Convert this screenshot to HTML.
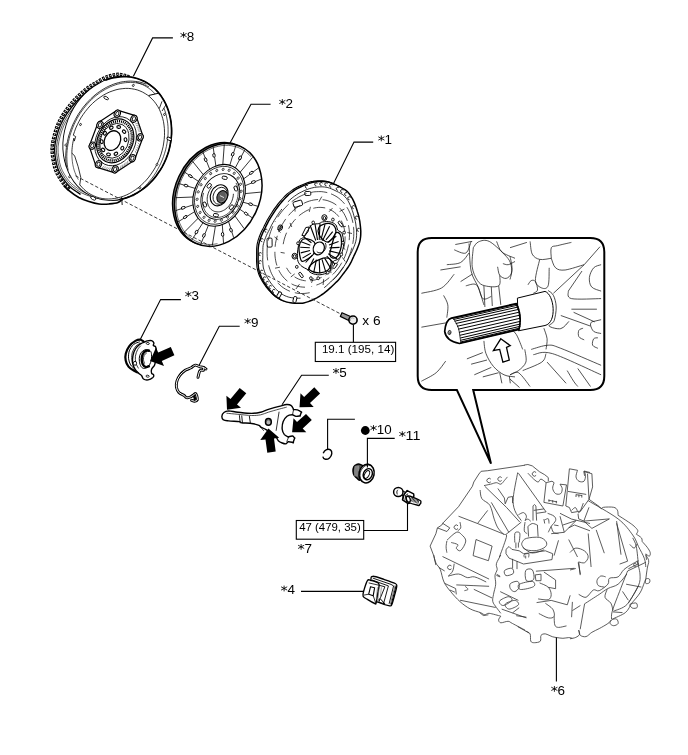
<!DOCTYPE html>
<html><head><meta charset="utf-8"><title>Clutch components</title>
<style>
html,body{margin:0;padding:0;background:#fff;}
body{width:688px;height:755px;overflow:hidden;font-family:"Liberation Sans",sans-serif;}
svg{display:block;position:absolute;left:0;top:0;filter:grayscale(1);}
svg text{font-family:"Liberation Sans",sans-serif;fill:#000;}
</style></head><body>
<svg width="688" height="755" viewBox="0 0 688 755">
<path d="M132.8 76.2 C129.4 72.1 132.2 75.8 129.8 75.2 C127.4 74.6 122.5 72.7 118.6 72.7 C114.7 72.7 110.4 73.9 106.5 75.3 C102.6 76.7 98.8 79.2 95.2 81.3 C91.6 83.4 88.7 85 85 87.9 C81.3 90.9 76.7 94.9 73 99 C69.3 103.1 65.5 108.2 62.7 112.4 C59.9 116.6 58.1 120.1 56.4 124 C54.7 127.9 53.6 131.7 52.6 135.7 C51.7 139.7 50.7 144 50.5 148.1 C50.3 152.2 51 156.6 51.6 160.3 C52.2 164 53 167.4 54.1 170.5 C55.2 173.6 56.7 176.1 58.2 178.7 C59.7 181.2 61.6 183.8 63.3 185.8 C65 187.8 65.8 188.9 68.3 190.9 C70.8 192.9 75.1 196.1 78.5 198 C81.9 199.9 85.3 201 88.7 202.1 C92.1 203.2 95.5 204.2 98.9 204.6 C102.3 205 105.8 204.8 109 204.6 C112.2 204.3 115.7 204 118 203.1 C120.3 202.2 117.6 204.9 122.9 199.4 C128.2 193.9 145.5 186.6 150 170 C154.5 153.4 152.9 115.6 150 100 C147.1 84.4 136.2 80.3 132.8 76.2 Z" fill="#fff" stroke="none" stroke-width="0" />
<path d="M129.4 76.8 C127.5 76.4 122.2 74.4 118.5 74.4 C114.7 74.4 110.5 75.6 106.7 77 C102.9 78.4 99.2 80.9 95.7 82.9 C92.2 85 89.4 86.5 85.8 89.4 C82.2 92.3 77.8 96.2 74.2 100.2 C70.6 104.2 66.9 109.2 64.2 113.2 C61.5 117.2 59.7 120.7 58 124.4 C56.4 128.2 55.3 131.9 54.3 135.8 C53.4 139.7 52.4 143.9 52.2 147.9 C52 151.8 52.6 156.1 53.2 159.7 C53.8 163.4 54.5 166.7 55.6 169.7 C56.7 172.7 58.1 175.2 59.6 177.7 C61.1 180.2 62.9 182.6 64.5 184.6 C66.2 186.6 68.6 188.8 69.4 189.6" fill="none" stroke="#000" stroke-width="3.6" stroke-dasharray="2.5 1.15"/>
<path d="M129.4 76.7 C127.6 76.2 122.3 74.2 118.5 74.2 C114.7 74.2 110.5 75.4 106.7 76.8 C102.8 78.2 99.1 80.7 95.6 82.7 C92.2 84.8 89.3 86.3 85.7 89.2 C82.1 92.1 77.7 96.1 74.1 100.1 C70.4 104 66.7 109 64 113.1 C61.3 117.2 59.5 120.6 57.8 124.4 C56.2 128.2 55.1 131.9 54.1 135.8 C53.2 139.7 52.2 143.9 52 147.9 C51.8 151.9 52.4 156.2 53 159.8 C53.6 163.5 54.4 166.8 55.4 169.8 C56.5 172.8 57.9 175.3 59.4 177.8 C60.9 180.3 62.7 182.8 64.4 184.8 C66 186.8 68.5 188.9 69.3 189.8" fill="none" stroke="#fff" stroke-width="1.1" stroke-dasharray="0.9 2.75" stroke-dashoffset="-0.8"/>
<path d="M131.5 80.2 C131.1 80 130.9 79.8 128.7 79.3 C126.5 78.7 121.9 76.8 118.2 76.9 C114.6 76.9 110.6 78.1 106.9 79.5 C103.3 80.9 99.8 83.3 96.4 85.3 C93.1 87.3 90.4 88.8 87 91.6 C83.6 94.4 79.4 98.2 76 102 C72.5 105.8 69 110.5 66.4 114.4 C63.8 118.2 62.1 121.5 60.5 125.1 C58.9 128.7 57.8 132.2 56.8 135.9 C55.9 139.7 54.9 143.7 54.7 147.5 C54.4 151.3 55 155.4 55.6 158.9 C56.1 162.4 56.8 165.6 57.8 168.5 C58.8 171.4 60.2 173.8 61.6 176.2 C63 178.6 64.8 181 66.4 182.9 C67.9 184.8 68.7 185.8 71 187.7 C73.4 189.6 79 193.3 80.6 194.4" fill="none" stroke="#000" stroke-width="1.3" />
<path d="M63.7 185.4 C64.6 186.2 66.2 188.4 68.7 190.4 C71.2 192.5 75.4 195.6 78.8 197.5 C82.2 199.3 85.5 200.5 88.9 201.5 C92.3 202.6 95.7 203.6 99 204 C102.4 204.4 105.9 204.3 109 204 C112.2 203.7 115.7 203.4 118 202.5 C120.2 201.6 122 199.4 122.8 198.8" fill="none" stroke="#000" stroke-width="1.7" />
<path d="M118.1 78.7 C116.3 79.1 110.6 79.9 107.1 81.3 C103.6 82.7 100.2 85.1 97 87 C93.8 89 91.2 90.5 87.9 93.2 C84.6 95.9 80.6 99.6 77.2 103.2 C73.9 106.9 70.5 111.5 68 115.2 C65.5 118.9 63.8 122.1 62.2 125.5 C60.6 129 59.6 132.4 58.6 136 C57.7 139.6 56.7 143.5 56.4 147.2 C56.2 151 56.8 154.9 57.3 158.3 C57.8 161.7 58.4 164.9 59.4 167.7 C60.4 170.5 61.7 172.8 63.1 175.2 C64.4 177.5 66.1 179.8 67.7 181.7 C69.2 183.5 69.9 184.5 72.2 186.4 C74.5 188.2 78.4 191.1 81.5 192.8 C84.6 194.5 87.8 195.5 90.9 196.5 C94 197.5 98.6 198.4 100.2 198.7" fill="none" stroke="#000" stroke-width="0.7" />
<path d="M107.3 82.9 C105.6 83.8 100.5 86.6 97.4 88.6 C94.3 90.5 91.8 91.9 88.7 94.6 C85.5 97.2 81.6 100.8 78.4 104.4 C75.2 107.9 71.9 112.4 69.4 116 C67 119.5 65.3 122.6 63.7 125.9 C62.2 129.3 61.2 132.6 60.2 136.1 C59.3 139.6 58.3 143.4 58 147 C57.8 150.6 58.3 154.5 58.8 157.8 C59.2 161.1 59.9 164.2 60.8 166.9 C61.7 169.7 63 172 64.4 174.2 C65.7 176.5 67.3 178.8 68.8 180.6 C70.3 182.4 71 183.3 73.3 185.1 C75.5 186.9 79.3 189.8 82.3 191.4 C85.4 193.1 89.9 194.4 91.4 195" fill="none" stroke="#000" stroke-width="0.6" />
<ellipse cx="117.3" cy="138.5" rx="52.8" ry="63.2" transform="rotate(21.5 117.3 138.5)" fill="#fff" stroke="#000" stroke-width="0.9" />
<path d="M105.3 80.3 L108.9 79 L112.4 78 L116 77.3 L119.6 76.8 L123.2 76.6 L126.8 76.7 L130.3 77 L133.8 77.7 L137.2 78.5 L140.5 79.7 L143.7 81.1 L146.8 82.8 L149.7 84.7 L152.5 86.8 L155.2 89.2 L157.7 91.8 L160 94.6 L162.1 97.6 L164 100.7 L165.8 104.1 L167.3 107.6 L168.6 111.2 L169.6 114.9 L170.5 118.8 L171.1 122.7 L171.4 126.7 L171.6 130.7 L171.5 134.8 L171.1 138.9 L170.5 143 L169.7 147.1 L168.7 151.2 L167.4 155.1 L165.9 159.1 L164.2 162.9 L162.3 166.6 L160.1 170.2 L157.8 173.6 L155.4 176.9 L152.7 180.1 L149.9 183 L147 185.8 L143.9 188.3 L140.7 190.6 L137.4 192.7 L134 194.6 L130.6 196.2 L127 197.6 L123.5 198.7 L119.9 199.5" fill="none" stroke="#000" stroke-width="1.7" />
<path d="M66.4 166.9 L66.1 164.2 L65.9 161.4 L65.7 158.7 L65.7 155.9 L65.9 153 L66.1 150.2 L66.4 147.4 L66.8 144.5 L67.4 141.7 L68 138.8 L68.7 136 L69.6 133.2 L70.5 130.4 L71.6 127.6 L72.7 124.9 L74 122.2 L75.3 119.6 L76.7 117 L78.2 114.4 L79.8 112 L81.5 109.6 L83.2 107.2 L85.1 105 L86.9 102.8 L88.9 100.7 L90.9 98.7 L93 96.8 L95.1 94.9 L97.3 93.2 L99.5 91.6 L101.8 90.1 L104.1 88.7 L106.4 87.4 L108.8 86.2 L111.2 85.2 L113.6 84.2 L116 83.4 L118.4 82.7 L120.8 82.1 L123.3 81.7 L125.7 81.4 L128.1 81.2 L130.5 81.1 L132.8 81.2 L135.2 81.4 L137.5 81.7 L139.8 82.1 L142 82.7 L144.2 83.4 L146.3 84.2" fill="none" stroke="#000" stroke-width="0.8" />
<path d="M68.2 170.4 L67.7 167.7 L67.3 164.9 L67 162.1 L66.9 159.2 L66.8 156.3 L66.9 153.4 L67.1 150.4 L67.5 147.5 L67.9 144.5 L68.5 141.6 L69.2 138.6 L69.9 135.7 L70.9 132.7 L71.9 129.8 L73 127 L74.2 124.2 L75.6 121.4 L77 118.7 L78.5 116 L80.1 113.4 L81.9 110.9 L83.7 108.4 L85.5 106.1 L87.5 103.8 L89.5 101.6 L91.6 99.5 L93.8 97.5 L96 95.6 L98.3 93.9 L100.6 92.2 L103 90.7 L105.4 89.3 L107.9 88 L110.3 86.8 L112.8 85.8 L115.3 84.9 L117.8 84.1 L120.4 83.5 L122.9 83 L125.4 82.7 L127.9 82.5 L130.4 82.4 L132.9 82.5 L135.3 82.7 L137.7 83.1 L140 83.6 L142.4 84.2 L144.6 85 L146.8 85.9 L149 86.9" fill="none" stroke="#000" stroke-width="0.7" />
<path d="M136.1 82.3 L138.3 82.9 L140.4 83.7 L142.5 84.6 L144.5 85.6 L146.4 86.7 L148.3 87.9 L150.2 89.3 L151.9 90.7 L153.6 92.3 L155.2 94" fill="none" stroke="#000" stroke-width="0.7" />
<path d="M163.9 108.1 L165 111 L165.9 113.9 L166.6 116.9 L167.2 120 L167.7 123.2 L168 126.5 L168.1 129.7 L168.1 133.1 L167.9 136.4 L167.5 139.8 L167 143.2 L166.4 146.5 L165.6 149.9 L164.6 153.3 L163.5 156.6 L162.3 159.8 L160.9 163.1 L159.4 166.2 L157.7 169.3 L156 172.3 L154.1 175.3 L152.1 178.1 L149.9 180.8 L147.7 183.4 L145.4 185.9 L143 188.3 L140.5 190.5 L137.9 192.6 L135.3 194.5 L132.6 196.3" fill="none" stroke="#000" stroke-width="0.7" />
<path d="M73.3 135.2 L74.5 131.6 L75.8 128 L77.4 124.6 L79.1 121.2 L80.9 117.9 L83 114.7 L85.2 111.7 L87.5 108.8 L89.9 106 L92.5 103.4 L95.2 101 L98 98.8 L100.9 96.8 L103.8 94.9 L106.8 93.3 L109.8 91.9 L112.9 90.8 L116 89.8 L119.1 89.1 L122.2 88.7 L125.3 88.4 L128.4 88.4 L131.4 88.7 L134.3 89.2 L137.2 89.9 L139.9 90.9 L142.6 92.1 L145.2 93.6 L147.7 95.2 L150 97.1 L152.1 99.1 L154.2 101.4 L156 103.8 L157.7 106.4 L159.3 109.2 L160.6 112.2 L161.7 115.2 L162.7 118.4 L163.5 121.7 L164 125.1 L164.4 128.6 L164.5 132.2 L164.5 135.7 L164.2 139.4 L163.7 143 L163.1 146.7 L162.2 150.3 L161.2 153.9 L159.9 157.5 L158.5 161 L156.9 164.4 L155.1 167.8 L153.1 171 L151 174.1 L148.8 177.1 L146.4 180 L143.9 182.6 L141.2 185.1 L138.5 187.5 L135.7 189.6 L132.8 191.5 L129.8 193.3 L126.8 194.8 L123.7 196.1 L120.6 197.1 L117.5 197.9 L114.4 198.5 L111.3 198.9 L108.2 199 L105.2 198.9 L102.2 198.5 L99.3 197.9 L96.5 197 L93.8 195.9 L91.1 194.6 L88.6 193.1 L86.2 191.3 L84 189.4 L81.9 187.2 L79.9 184.9" fill="none" stroke="#000" stroke-width="0.8" />
<path d="M71.9 153.1 L71.9 151.3 L72 149.4 L72.2 147.6 L72.4 145.7 L72.7 143.8 L73 141.9 L73.4 140.1 L73.9 138.2" fill="none" stroke="#000" stroke-width="0.8" />
<path d="M73.3 135.2 L75.7 136.6 L74.3 141.1 L73.9 138.2" fill="none" stroke="#000" stroke-width="0.8" />
<line x1="148.6" y1="95.5" x2="158.1" y2="93.3" stroke="#000" stroke-width="1.0" />
<line x1="159.3" y1="108.6" x2="162" y2="101.3" stroke="#000" stroke-width="0.8" />
<line x1="162.1" y1="111" x2="165.9" y2="104.9" stroke="#000" stroke-width="0.8" />
<line x1="121.6" y1="197.1" x2="122.2" y2="205" stroke="#000" stroke-width="0.9" />
<path d="M71.9 153.1 L74.7 156 L78.1 166.5 L80.8 177.5 L79.7 185.1" fill="none" stroke="#000" stroke-width="0.8" />
<path d="M78.4 179.7 L77.1 177.4 L76 175 L75 172.6 L74.1 170 L73.4 167.3 L72.8 164.6 L72.4 161.8 L72.1 159 L71.9 156.1 L71.9 153.1" fill="none" stroke="#000" stroke-width="0.6" />
<rect x="167" y="137" width="4.8" height="2.6" rx="1.2" transform="rotate(25 168 138.3)" fill="#fff" stroke="#000" stroke-width="0.9"/>
<ellipse cx="133.3" cy="85.4" rx="0.9" ry="1.2" transform="rotate(25 133.3 85.4)" fill="#fff" stroke="#000" stroke-width="0.7"/>
<ellipse cx="164.5" cy="114.4" rx="0.9" ry="1.2" transform="rotate(25 164.5 114.4)" fill="#fff" stroke="#000" stroke-width="0.7"/>
<ellipse cx="157" cy="164.5" rx="0.9" ry="1.2" transform="rotate(25 157 164.5)" fill="#fff" stroke="#000" stroke-width="0.7"/>
<ellipse cx="139.8" cy="187.8" rx="0.9" ry="1.2" transform="rotate(25 139.8 187.8)" fill="#fff" stroke="#000" stroke-width="0.7"/>
<ellipse cx="69.7" cy="176.7" rx="0.9" ry="1.2" transform="rotate(25 69.7 176.7)" fill="#fff" stroke="#000" stroke-width="0.7"/>
<ellipse cx="80.5" cy="124.5" rx="0.9" ry="1.2" transform="rotate(25 80.5 124.5)" fill="#fff" stroke="#000" stroke-width="0.7"/>
<ellipse cx="66" cy="145" rx="0.9" ry="1.2" transform="rotate(25 66 145)" fill="#fff" stroke="#000" stroke-width="0.7"/>
<ellipse cx="106.1" cy="98" rx="1.3" ry="2.6" transform="rotate(-60 106.1 98)" fill="#fff" stroke="#000" stroke-width="0.8"/>
<ellipse cx="93.2" cy="198.2" rx="1.5" ry="2.8" transform="rotate(-60 93.2 198.2)" fill="#fff" stroke="#000" stroke-width="0.8"/>
<path d="M136.1 115.9 L143.2 136.7 L134.4 160.3 L115 172.9 L96.3 167.1 L89.2 146.3 L98 122.7 L117.4 110.1 Z" fill="#fff" stroke="#000" stroke-width="1.2" stroke-linejoin="round"/>
<ellipse cx="115.6" cy="141.2" rx="19.7" ry="25.5" transform="rotate(25 115.6 141.2)" fill="none" stroke="#000" stroke-width="0.8" />
<line x1="135.3" y1="123.9" x2="138.8" y2="123.1" stroke="#333" stroke-width="0.5" />
<line x1="136.1" y1="125.5" x2="139.6" y2="125" stroke="#333" stroke-width="0.5" />
<line x1="136.8" y1="127.2" x2="140.3" y2="127" stroke="#333" stroke-width="0.5" />
<line x1="137.4" y1="129" x2="140.8" y2="129.1" stroke="#333" stroke-width="0.5" />
<line x1="137.9" y1="130.8" x2="141.2" y2="131.3" stroke="#333" stroke-width="0.5" />
<line x1="137.8" y1="142.8" x2="140.3" y2="145.1" stroke="#333" stroke-width="0.5" />
<line x1="137.3" y1="144.9" x2="139.6" y2="147.4" stroke="#333" stroke-width="0.5" />
<line x1="136.7" y1="146.9" x2="138.8" y2="149.6" stroke="#333" stroke-width="0.5" />
<line x1="135.9" y1="148.9" x2="137.8" y2="151.9" stroke="#333" stroke-width="0.5" />
<line x1="135.1" y1="150.8" x2="136.7" y2="154" stroke="#333" stroke-width="0.5" />
<line x1="127.7" y1="160.9" x2="127.7" y2="164.9" stroke="#333" stroke-width="0.5" />
<line x1="126.1" y1="162.2" x2="125.9" y2="166.3" stroke="#333" stroke-width="0.5" />
<line x1="124.5" y1="163.4" x2="124" y2="167.5" stroke="#333" stroke-width="0.5" />
<line x1="122.9" y1="164.5" x2="122.1" y2="168.6" stroke="#333" stroke-width="0.5" />
<line x1="121.2" y1="165.4" x2="120.1" y2="169.5" stroke="#333" stroke-width="0.5" />
<line x1="110.8" y1="167.6" x2="108.4" y2="171.1" stroke="#333" stroke-width="0.5" />
<line x1="109.1" y1="167.5" x2="106.5" y2="170.7" stroke="#333" stroke-width="0.5" />
<line x1="107.5" y1="167.1" x2="104.7" y2="170.1" stroke="#333" stroke-width="0.5" />
<line x1="105.9" y1="166.6" x2="103" y2="169.4" stroke="#333" stroke-width="0.5" />
<line x1="104.4" y1="166" x2="101.3" y2="168.5" stroke="#333" stroke-width="0.5" />
<ellipse cx="133.9" cy="118.8" rx="3.0" ry="3.7" transform="rotate(25 133.9 118.8)" fill="#fff" stroke="#000" stroke-width="1.1"/>
<ellipse cx="133.9" cy="118.8" rx="1.5" ry="2.2" transform="rotate(25 133.9 118.8)" fill="#fff" stroke="#000" stroke-width="0.9"/>
<ellipse cx="140.1" cy="137.3" rx="3.0" ry="3.7" transform="rotate(25 140.1 137.3)" fill="#fff" stroke="#000" stroke-width="1.1"/>
<ellipse cx="140.1" cy="137.3" rx="1.5" ry="2.2" transform="rotate(25 140.1 137.3)" fill="#fff" stroke="#000" stroke-width="0.9"/>
<ellipse cx="132.4" cy="158.2" rx="3.0" ry="3.7" transform="rotate(25 132.4 158.2)" fill="#fff" stroke="#000" stroke-width="1.1"/>
<ellipse cx="132.4" cy="158.2" rx="1.5" ry="2.2" transform="rotate(25 132.4 158.2)" fill="#fff" stroke="#000" stroke-width="0.9"/>
<ellipse cx="115.1" cy="169.3" rx="3.0" ry="3.7" transform="rotate(25 115.1 169.3)" fill="#fff" stroke="#000" stroke-width="1.1"/>
<ellipse cx="115.1" cy="169.3" rx="1.5" ry="2.2" transform="rotate(25 115.1 169.3)" fill="#fff" stroke="#000" stroke-width="0.9"/>
<ellipse cx="98.5" cy="164.2" rx="3.0" ry="3.7" transform="rotate(25 98.5 164.2)" fill="#fff" stroke="#000" stroke-width="1.1"/>
<ellipse cx="98.5" cy="164.2" rx="1.5" ry="2.2" transform="rotate(25 98.5 164.2)" fill="#fff" stroke="#000" stroke-width="0.9"/>
<ellipse cx="92.3" cy="145.7" rx="3.0" ry="3.7" transform="rotate(25 92.3 145.7)" fill="#fff" stroke="#000" stroke-width="1.1"/>
<ellipse cx="92.3" cy="145.7" rx="1.5" ry="2.2" transform="rotate(25 92.3 145.7)" fill="#fff" stroke="#000" stroke-width="0.9"/>
<ellipse cx="100" cy="124.8" rx="3.0" ry="3.7" transform="rotate(25 100 124.8)" fill="#fff" stroke="#000" stroke-width="1.1"/>
<ellipse cx="100" cy="124.8" rx="1.5" ry="2.2" transform="rotate(25 100 124.8)" fill="#fff" stroke="#000" stroke-width="0.9"/>
<ellipse cx="117.3" cy="113.7" rx="3.0" ry="3.7" transform="rotate(25 117.3 113.7)" fill="#fff" stroke="#000" stroke-width="1.1"/>
<ellipse cx="117.3" cy="113.7" rx="1.5" ry="2.2" transform="rotate(25 117.3 113.7)" fill="#fff" stroke="#000" stroke-width="0.9"/>
<ellipse cx="115.2" cy="140.9" rx="17.6" ry="22.7" transform="rotate(25 115.2 140.9)" fill="#fff" stroke="#000" stroke-width="1.2" />
<ellipse cx="115.2" cy="140.9" rx="15.8" ry="20.4" transform="rotate(25 115.2 140.9)" fill="none" stroke="#000" stroke-width="2.5" stroke-dasharray="1.1 0.9"/>
<ellipse cx="114.4" cy="140.8" rx="13.9" ry="18" transform="rotate(25 114.4 140.8)" fill="none" stroke="#000" stroke-width="0.8" />
<ellipse cx="122.3" cy="148.1" rx="1.4" ry="1.9" transform="rotate(25 122.3 148.1)" fill="#fff" stroke="#000" stroke-width="1.1"/>
<ellipse cx="115.9" cy="153.7" rx="1.4" ry="1.9" transform="rotate(61 115.9 153.7)" fill="#fff" stroke="#000" stroke-width="1.1"/>
<ellipse cx="108.5" cy="154.4" rx="1.4" ry="1.9" transform="rotate(97 108.5 154.4)" fill="#fff" stroke="#000" stroke-width="1.1"/>
<ellipse cx="103.1" cy="149.8" rx="1.4" ry="1.9" transform="rotate(133 103.1 149.8)" fill="#fff" stroke="#000" stroke-width="1.1"/>
<ellipse cx="101.7" cy="141.7" rx="1.4" ry="1.9" transform="rotate(169 101.7 141.7)" fill="#fff" stroke="#000" stroke-width="1.1"/>
<ellipse cx="104.9" cy="133.3" rx="1.4" ry="1.9" transform="rotate(205 104.9 133.3)" fill="#fff" stroke="#000" stroke-width="1.1"/>
<ellipse cx="111.3" cy="127.7" rx="1.4" ry="1.9" transform="rotate(241 111.3 127.7)" fill="#fff" stroke="#000" stroke-width="1.1"/>
<ellipse cx="118.7" cy="127" rx="1.4" ry="1.9" transform="rotate(277 118.7 127)" fill="#fff" stroke="#000" stroke-width="1.1"/>
<ellipse cx="124.1" cy="131.6" rx="1.4" ry="1.9" transform="rotate(313 124.1 131.6)" fill="#fff" stroke="#000" stroke-width="1.1"/>
<ellipse cx="125.5" cy="139.7" rx="1.4" ry="1.9" transform="rotate(349 125.5 139.7)" fill="#fff" stroke="#000" stroke-width="1.1"/>
<ellipse cx="112.4" cy="140.6" rx="7.9" ry="10.2" transform="rotate(25 112.4 140.6)" fill="#fff" stroke="#000" stroke-width="1.3" />
<ellipse cx="216.3" cy="194" rx="41.3" ry="53.3" transform="rotate(25 216.3 194)" fill="#8a8a8a" stroke="#000" stroke-width="1.5" />
<ellipse cx="218.3" cy="194.9" rx="41.3" ry="53.3" transform="rotate(25 218.3 194.9)" fill="#fff" stroke="#000" stroke-width="1.5" />
<path d="M217.5 243.7 L214.2 244.2 L210.8 244.5 L207.5 244.4 L204.3 244 L201.1 243.2 L198.1 242.2 L195.2 240.8 L192.4 239.2 L189.9 237.3 L187.4 235.1 L185.2 232.6 L183.2 229.9 L181.5 227 L180 223.8 L178.7 220.5 L177.6 217 L176.9 213.4 L176.4 209.7 L176.2 205.8 L176.2 201.9 L176.5 198 L177.1 194 L177.9 190 L179.1 186.1 L180.4 182.2 L182 178.4 L183.9 174.7 L185.9 171.1 L188.2 167.7 L190.7 164.5 L193.3 161.4 L196.1 158.6 L199.1 156 L202.1 153.7 L205.3 151.6 L208.6 149.8 L211.9 148.3 L215.2 147.1 L218.6 146.2 L222 145.6 L225.4 145.4 L228.7 145.4 L231.9 145.8 L235.1 146.5 L238.1 147.5 L241 148.8 L243.8 150.4 L246.4 152.3 L248.9 154.4 L251.1 156.9" fill="none" stroke="#000" stroke-width="0.6" />
<ellipse cx="219.1" cy="195.3" rx="24.8" ry="32" transform="rotate(25 219.1 195.3)" fill="none" stroke="#000" stroke-width="1.1" />
<ellipse cx="219.1" cy="195.3" rx="23.3" ry="30.1" transform="rotate(25 219.1 195.3)" fill="none" stroke="#000" stroke-width="0.7" />
<line x1="229.8" y1="165.3" x2="235.8" y2="145.6" stroke="#000" stroke-width="0.8" />
<ellipse cx="232.7" cy="154.3" rx="1.2" ry="2.0" transform="rotate(-160.4 232.7 154.3)" fill="#fff" stroke="#000" stroke-width="0.9"/>
<line x1="235.3" y1="167.8" x2="244.8" y2="149.8" stroke="#000" stroke-width="0.8" />
<ellipse cx="240.1" cy="157.8" rx="1.2" ry="2.0" transform="rotate(-149.6 240.1 157.8)" fill="#fff" stroke="#000" stroke-width="0.9"/>
<line x1="240" y1="172.4" x2="252.7" y2="157.2" stroke="#000" stroke-width="0.8" />
<line x1="243.6" y1="178.9" x2="258.5" y2="168" stroke="#000" stroke-width="0.8" />
<ellipse cx="251.3" cy="172.8" rx="1.2" ry="2.0" transform="rotate(-123.8 251.3 172.8)" fill="#fff" stroke="#000" stroke-width="0.9"/>
<line x1="245.1" y1="185.7" x2="261" y2="179.2" stroke="#000" stroke-width="0.8" />
<ellipse cx="253.4" cy="182" rx="1.2" ry="2.0" transform="rotate(-110.2 253.4 182)" fill="#fff" stroke="#000" stroke-width="0.9"/>
<line x1="245.1" y1="193.6" x2="260.9" y2="192.1" stroke="#000" stroke-width="0.8" />
<line x1="243" y1="202.2" x2="257.6" y2="206.2" stroke="#000" stroke-width="0.8" />
<ellipse cx="250.6" cy="204.2" rx="1.2" ry="2.0" transform="rotate(-74 250.6 204.2)" fill="#fff" stroke="#000" stroke-width="0.9"/>
<line x1="239.7" y1="209.2" x2="252.2" y2="217.8" stroke="#000" stroke-width="0.8" />
<ellipse cx="246.2" cy="213.7" rx="1.2" ry="2.0" transform="rotate(-56 246.2 213.7)" fill="#fff" stroke="#000" stroke-width="0.9"/>
<line x1="234.9" y1="215.9" x2="244.2" y2="228.7" stroke="#000" stroke-width="0.8" />
<line x1="228.5" y1="221.4" x2="233.7" y2="237.7" stroke="#000" stroke-width="0.8" />
<ellipse cx="231" cy="230.1" rx="1.2" ry="2.0" transform="rotate(-19.8 231 230.1)" fill="#fff" stroke="#000" stroke-width="0.9"/>
<line x1="222.3" y1="224.6" x2="223.5" y2="243" stroke="#000" stroke-width="0.8" />
<ellipse cx="222.6" cy="234.4" rx="1.2" ry="2.0" transform="rotate(-6.2 222.6 234.4)" fill="#fff" stroke="#000" stroke-width="0.9"/>
<line x1="215.4" y1="226.1" x2="212.3" y2="245.4" stroke="#000" stroke-width="0.8" />
<line x1="208.4" y1="225.3" x2="200.8" y2="244.2" stroke="#000" stroke-width="0.8" />
<ellipse cx="203.9" cy="235.5" rx="1.2" ry="2.0" transform="rotate(19.6 203.9 235.5)" fill="#fff" stroke="#000" stroke-width="0.9"/>
<line x1="202.9" y1="222.8" x2="191.8" y2="240" stroke="#000" stroke-width="0.8" />
<ellipse cx="196.5" cy="232" rx="1.2" ry="2.0" transform="rotate(30.4 196.5 232)" fill="#fff" stroke="#000" stroke-width="0.9"/>
<line x1="198.2" y1="218.2" x2="183.9" y2="232.6" stroke="#000" stroke-width="0.8" />
<line x1="194.6" y1="211.7" x2="178.1" y2="221.8" stroke="#000" stroke-width="0.8" />
<ellipse cx="185.3" cy="217" rx="1.2" ry="2.0" transform="rotate(56.2 185.3 217)" fill="#fff" stroke="#000" stroke-width="0.9"/>
<line x1="193.1" y1="204.9" x2="175.6" y2="210.6" stroke="#000" stroke-width="0.8" />
<ellipse cx="183.2" cy="207.8" rx="1.2" ry="2.0" transform="rotate(69.8 183.2 207.8)" fill="#fff" stroke="#000" stroke-width="0.9"/>
<line x1="193.1" y1="197" x2="175.7" y2="197.7" stroke="#000" stroke-width="0.8" />
<line x1="195.2" y1="188.4" x2="179" y2="183.6" stroke="#000" stroke-width="0.8" />
<ellipse cx="186" cy="185.6" rx="1.2" ry="2.0" transform="rotate(-254 186 185.6)" fill="#fff" stroke="#000" stroke-width="0.9"/>
<line x1="198.5" y1="181.4" x2="184.4" y2="172" stroke="#000" stroke-width="0.8" />
<ellipse cx="190.4" cy="176.1" rx="1.2" ry="2.0" transform="rotate(-236 190.4 176.1)" fill="#fff" stroke="#000" stroke-width="0.9"/>
<line x1="203.3" y1="174.7" x2="192.4" y2="161.1" stroke="#000" stroke-width="0.8" />
<line x1="209.7" y1="169.2" x2="202.9" y2="152.1" stroke="#000" stroke-width="0.8" />
<ellipse cx="205.6" cy="159.7" rx="1.2" ry="2.0" transform="rotate(-199.8 205.6 159.7)" fill="#fff" stroke="#000" stroke-width="0.9"/>
<line x1="215.9" y1="166" x2="213.1" y2="146.8" stroke="#000" stroke-width="0.8" />
<ellipse cx="214" cy="155.4" rx="1.2" ry="2.0" transform="rotate(-186.2 214 155.4)" fill="#fff" stroke="#000" stroke-width="0.9"/>
<line x1="222.8" y1="164.5" x2="224.3" y2="144.4" stroke="#000" stroke-width="0.8" />
<ellipse cx="237.2" cy="205.8" rx="0.95" ry="1.25" transform="rotate(25 237.2 205.8)" fill="#fff" stroke="#000" stroke-width="0.7"/>
<ellipse cx="232.9" cy="212.1" rx="0.95" ry="1.25" transform="rotate(25 232.9 212.1)" fill="#fff" stroke="#000" stroke-width="0.7"/>
<ellipse cx="227.5" cy="217" rx="0.95" ry="1.25" transform="rotate(25 227.5 217)" fill="#fff" stroke="#000" stroke-width="0.7"/>
<ellipse cx="221.4" cy="220.1" rx="0.95" ry="1.25" transform="rotate(25 221.4 220.1)" fill="#fff" stroke="#000" stroke-width="0.7"/>
<ellipse cx="215.1" cy="221.2" rx="0.95" ry="1.25" transform="rotate(25 215.1 221.2)" fill="#fff" stroke="#000" stroke-width="0.7"/>
<ellipse cx="209.1" cy="220.3" rx="0.95" ry="1.25" transform="rotate(25 209.1 220.3)" fill="#fff" stroke="#000" stroke-width="0.7"/>
<ellipse cx="204" cy="217.3" rx="0.95" ry="1.25" transform="rotate(25 204 217.3)" fill="#fff" stroke="#000" stroke-width="0.7"/>
<ellipse cx="200.1" cy="212.5" rx="0.95" ry="1.25" transform="rotate(25 200.1 212.5)" fill="#fff" stroke="#000" stroke-width="0.7"/>
<ellipse cx="197.7" cy="206.4" rx="0.95" ry="1.25" transform="rotate(25 197.7 206.4)" fill="#fff" stroke="#000" stroke-width="0.7"/>
<ellipse cx="197.1" cy="199.3" rx="0.95" ry="1.25" transform="rotate(25 197.1 199.3)" fill="#fff" stroke="#000" stroke-width="0.7"/>
<ellipse cx="198.2" cy="191.9" rx="0.95" ry="1.25" transform="rotate(25 198.2 191.9)" fill="#fff" stroke="#000" stroke-width="0.7"/>
<ellipse cx="201" cy="184.8" rx="0.95" ry="1.25" transform="rotate(25 201 184.8)" fill="#fff" stroke="#000" stroke-width="0.7"/>
<ellipse cx="205.3" cy="178.5" rx="0.95" ry="1.25" transform="rotate(25 205.3 178.5)" fill="#fff" stroke="#000" stroke-width="0.7"/>
<ellipse cx="210.7" cy="173.6" rx="0.95" ry="1.25" transform="rotate(25 210.7 173.6)" fill="#fff" stroke="#000" stroke-width="0.7"/>
<ellipse cx="216.8" cy="170.5" rx="0.95" ry="1.25" transform="rotate(25 216.8 170.5)" fill="#fff" stroke="#000" stroke-width="0.7"/>
<ellipse cx="223.1" cy="169.4" rx="0.95" ry="1.25" transform="rotate(25 223.1 169.4)" fill="#fff" stroke="#000" stroke-width="0.7"/>
<ellipse cx="229.1" cy="170.3" rx="0.95" ry="1.25" transform="rotate(25 229.1 170.3)" fill="#fff" stroke="#000" stroke-width="0.7"/>
<ellipse cx="234.2" cy="173.3" rx="0.95" ry="1.25" transform="rotate(25 234.2 173.3)" fill="#fff" stroke="#000" stroke-width="0.7"/>
<ellipse cx="238.1" cy="178.1" rx="0.95" ry="1.25" transform="rotate(25 238.1 178.1)" fill="#fff" stroke="#000" stroke-width="0.7"/>
<ellipse cx="240.5" cy="184.2" rx="0.95" ry="1.25" transform="rotate(25 240.5 184.2)" fill="#fff" stroke="#000" stroke-width="0.7"/>
<ellipse cx="241.1" cy="191.3" rx="0.95" ry="1.25" transform="rotate(25 241.1 191.3)" fill="#fff" stroke="#000" stroke-width="0.7"/>
<ellipse cx="240" cy="198.7" rx="0.95" ry="1.25" transform="rotate(25 240 198.7)" fill="#fff" stroke="#000" stroke-width="0.7"/>
<ellipse cx="220.3" cy="196.5" rx="18.4" ry="23.7" transform="rotate(25 220.3 196.5)" fill="none" stroke="#000" stroke-width="0.9" />
<path d="M236 182.9 L236.8 184.6 L237.4 186.4 L237.8 188.3 L238.1 190.3 L238.2 192.3 L238.1 194.4 L237.9 196.5 L237.4 198.7 L236.8 200.7 L236 202.8 L235.1 204.8 L234 206.7 L232.8 208.5 L231.4 210.1 L230 211.7 L228.4 213.1 L226.8 214.3 L225.1 215.3 L223.3 216.2 L221.5 216.8 L219.7 217.3 L218 217.5 L216.2 217.5 L214.5 217.4 L212.8 217 L211.2 216.4 L209.7 215.6 L208.3 214.6 L207 213.4 L205.9 212.1 L204.9 210.6 L204.1 208.9 L203.4 207.2 L202.9 205.3 L202.5 203.3 L202.4 201.3 L202.4 199.2 L202.6 197.1 L203 195 L203.6 192.9" fill="none" stroke="#000" stroke-width="0.7" />
<rect x="229.9" y="204.7" width="3" height="5" rx="1.3" transform="rotate(40 231.4 207.2)" fill="#fff" stroke="#000" stroke-width="0.9"/>
<rect x="214.4" y="212.7" width="3" height="5" rx="1.3" transform="rotate(100 215.9 215.2)" fill="#fff" stroke="#000" stroke-width="0.9"/>
<rect x="203.3" y="202" width="3" height="5" rx="1.3" transform="rotate(160 204.8 204.5)" fill="#fff" stroke="#000" stroke-width="0.9"/>
<rect x="207.7" y="183.3" width="3" height="5" rx="1.3" transform="rotate(220 209.2 185.8)" fill="#fff" stroke="#000" stroke-width="0.9"/>
<rect x="223.2" y="175.3" width="3" height="5" rx="1.3" transform="rotate(280 224.7 177.8)" fill="#fff" stroke="#000" stroke-width="0.9"/>
<rect x="234.3" y="186" width="3" height="5" rx="1.3" transform="rotate(340 235.8 188.5)" fill="#fff" stroke="#000" stroke-width="0.9"/>
<path d="M233.4 193.8 L233.3 195.3 L233.1 196.9 L232.7 198.4 L232.3 199.9 L231.7 201.4 L231 202.9 L230.1 204.2 L229.2 205.5 L228.2 206.7 L227.1 207.8 L226 208.8 L224.8 209.7 L223.5 210.4 L222.2 211 L220.9 211.5 L219.6 211.8 L218.3 211.9 L217 211.9 L215.8 211.7 L214.5 211.4 L213.4 210.9 L212.3 210.3 L211.3 209.6 L210.4 208.7 L209.6 207.7 L208.9 206.5 L208.3 205.3 L207.8 204 L207.5 202.6 L207.3 201.2 L207.2 199.7 L207.2 198.1 L207.4 196.6 L207.7 195.1 L208.2 193.5 L208.7 192 L209.4 190.6 L210.2 189.2 L211.1 187.9 L212.1 186.6" fill="none" stroke="#000" stroke-width="0.8" />
<ellipse cx="219.2" cy="195.3" rx="8.5" ry="10.9" transform="rotate(25 219.2 195.3)" fill="#fff" stroke="#000" stroke-width="1.1" />
<ellipse cx="220.2" cy="195.8" rx="6.8" ry="8.8" transform="rotate(25 220.2 195.8)" fill="none" stroke="#000" stroke-width="0.8" />
<ellipse cx="222" cy="196.7" rx="4.9" ry="6.3" transform="rotate(25 222 196.7)" fill="#5c5c5c" stroke="#000" stroke-width="1.0" />
<line x1="219.9" y1="195.6" x2="224" y2="197.6" stroke="#eee" stroke-width="0.9" />
<path d="M225.8 193.4 L226.2 194.3 L226.3 195.2 L226.3 196.2 L226.2 197.3 L225.8 198.3 L225.3 199.3 L224.6 200.1 L223.9 200.8 L223.1 201.4 L222.2 201.7 L221.3 201.8 L220.4 201.8" fill="none" stroke="#999" stroke-width="1.0" />
<path d="M349.8 260.9 C349 262.4 348.2 264 347.3 265.4 C346.3 266.9 345.4 268.3 344.4 269.7 C343.4 271.1 342.3 272.4 341.3 273.7 C340.3 275.1 339.3 276.4 338.2 277.7 C337.1 279 336 280.2 334.8 281.4 C333.7 282.6 332.5 283.7 331.3 284.8 C330.1 286 328.8 287.1 327.6 288.2 C326.4 289.3 325.1 290.4 323.8 291.4 C322.5 292.5 321.2 293.4 319.8 294.3 C318.5 295.3 317.1 296.2 315.7 297 C314.2 297.8 312.8 298.4 311.3 299.1 C309.9 299.7 308.4 300.4 306.9 300.9 C305.4 301.4 303.8 301.9 302.3 302.2 C300.8 302.5 299.3 302.5 297.8 302.6 C296.3 302.6 294.8 302.7 293.3 302.6 C291.9 302.5 290.4 302.4 288.9 302.1 C287.5 301.9 286.1 301.6 284.7 301.2 C283.3 300.8 281.9 300.3 280.6 299.7 C279.3 299.1 278 298.3 276.8 297.5 C275.6 296.7 274.4 295.8 273.3 294.8 C272.2 293.9 271.2 292.8 270.2 291.7 C269.2 290.6 268.2 289.5 267.3 288.3 C266.3 287.2 265.4 286 264.6 284.7 C263.7 283.5 262.9 282.2 262.1 280.9 C261.3 279.6 260.6 278.2 259.9 276.8 C259.3 275.3 258.6 273.8 258.2 272.3 C257.7 270.7 257.3 269.1 257 267.4 C256.8 265.7 256.7 264 256.6 262.3 C256.5 260.5 256.6 258.8 256.6 257.1 C256.6 255.3 256.6 253.6 256.6 251.9 C256.6 250.2 256.6 248.4 256.8 246.7 C257 245 257.3 243.2 257.8 241.4 C258.2 239.7 258.9 238 259.5 236.3 C260.2 234.6 260.9 232.9 261.6 231.3 C262.4 229.7 263.3 228.2 264 226.6 C264.8 225 265.5 223.5 266.3 221.9 C267.1 220.4 268 218.9 268.8 217.5 C269.7 216 270.6 214.6 271.5 213.2 C272.5 211.7 273.4 210.3 274.3 208.9 C275.3 207.5 276.3 206.1 277.3 204.8 C278.4 203.4 279.5 202.2 280.6 200.9 C281.7 199.6 282.8 198.3 284 197 C285.1 195.8 286.4 194.7 287.6 193.6 C288.9 192.5 290.2 191.5 291.6 190.6 C292.9 189.6 294.3 188.7 295.7 187.9 C297.1 187.1 298.5 186.4 300 185.8 C301.4 185.1 302.8 184.5 304.3 183.9 C305.8 183.3 307.2 182.8 308.7 182.4 C310.2 182 311.7 181.6 313.2 181.4 C314.7 181.1 316.2 181 317.6 180.9 C319.1 180.8 320.6 180.7 322.1 180.8 C323.5 180.9 325 181 326.4 181.3 C327.8 181.6 329.2 182.1 330.5 182.6 C331.8 183.1 333.1 183.6 334.4 184.2 C335.7 184.8 337 185.5 338.2 186.1 C339.5 186.8 340.8 187.4 342 188.2 C343.2 188.9 344.5 189.7 345.6 190.6 C346.7 191.6 347.6 192.9 348.5 194.1 C349.3 195.3 350.1 196.7 350.9 198 C351.6 199.4 352.3 200.8 352.9 202.2 C353.5 203.7 354.1 205.2 354.6 206.7 C355.1 208.1 355.6 209.7 356 211.2 C356.5 212.7 356.9 214.3 357.3 215.8 C357.6 217.4 358 219 358.3 220.6 C358.5 222.3 358.7 223.9 358.9 225.6 C359.1 227.2 359.2 228.9 359.3 230.7 C359.3 232.4 359.3 234.1 359.1 235.9 C358.9 237.6 358.7 239.4 358.2 241.2 C357.8 242.9 357.1 244.7 356.4 246.3 C355.8 248 355.1 249.7 354.3 251.3 C353.6 253 352.7 254.5 352 256.1 C351.2 257.7 350.6 259.3 349.8 260.9 Z" fill="#fff" stroke="#000" stroke-width="1.1" />
<path d="M351.3 261.6 C350.5 263.1 349.7 264.7 348.8 266.1 C347.8 267.6 346.9 269 345.9 270.4 C344.9 271.8 343.8 273.1 342.8 274.4 C341.8 275.8 340.8 277.1 339.7 278.4 C338.6 279.7 337.5 280.9 336.3 282.1 C335.2 283.3 334 284.4 332.8 285.5 C331.6 286.7 330.3 287.8 329.1 288.9 C327.9 290 326.6 291.1 325.3 292.1 C324 293.2 322.7 294.1 321.3 295 C320 296 318.6 296.9 317.2 297.7 C315.7 298.5 314.3 299.1 312.8 299.8 C311.4 300.4 309.9 301.1 308.4 301.6 C306.9 302.1 305.3 302.6 303.8 302.9 C302.3 303.2 300.8 303.2 299.3 303.3 C297.8 303.3 296.3 303.4 294.8 303.3 C293.4 303.2 291.9 303.1 290.4 302.8 C289 302.6 287.6 302.3 286.2 301.9 C284.8 301.5 283.4 301 282.1 300.4 C280.8 299.8 279.5 299 278.3 298.2 C277.1 297.4 275.9 296.5 274.8 295.5 C273.7 294.6 272.7 293.5 271.7 292.4 C270.7 291.3 269.7 290.2 268.8 289 C267.8 287.9 266.9 286.7 266.1 285.4 C265.2 284.2 264.4 282.9 263.6 281.6 C262.8 280.3 262.1 278.9 261.4 277.5 C260.8 276 260.1 274.5 259.7 273 C259.2 271.4 258.8 269.8 258.5 268.1 C258.3 266.4 258.2 264.7 258.1 263 C258 261.2 258.1 259.5 258.1 257.8 C258.1 256 258.1 254.3 258.1 252.6 C258.1 250.9 258.1 249.1 258.3 247.4 C258.5 245.7 258.8 243.9 259.3 242.1 C259.7 240.4 260.4 238.7 261 237 C261.7 235.3 262.4 233.6 263.1 232 C263.9 230.4 264.8 228.9 265.5 227.3 C266.3 225.7 267 224.2 267.8 222.6 C268.6 221.1 269.5 219.6 270.3 218.2 C271.2 216.7 272.1 215.3 273 213.9 C274 212.4 274.9 211 275.8 209.6 C276.8 208.2 277.8 206.8 278.8 205.5 C279.9 204.1 281 202.9 282.1 201.6 C283.2 200.3 284.3 199 285.5 197.7 C286.6 196.5 287.9 195.4 289.1 194.3 C290.4 193.2 291.7 192.2 293.1 191.3 C294.4 190.3 295.8 189.4 297.2 188.6 C298.6 187.8 300 187.1 301.5 186.5 C302.9 185.8 304.3 185.2 305.8 184.6 C307.3 184 308.7 183.5 310.2 183.1 C311.7 182.7 313.2 182.3 314.7 182.1 C316.2 181.8 317.7 181.7 319.1 181.6 C320.6 181.5 322.1 181.4 323.6 181.5 C325 181.6 326.5 181.7 327.9 182 C329.3 182.3 330.7 182.8 332 183.3 C333.3 183.8 334.6 184.3 335.9 184.9 C337.2 185.5 338.5 186.2 339.7 186.8 C341 187.5 342.3 188.1 343.5 188.9 C344.7 189.6 346 190.4 347.1 191.3 C348.2 192.3 349.1 193.6 350 194.8 C350.8 196 351.6 197.4 352.4 198.7 C353.1 200.1 353.8 201.5 354.4 202.9 C355 204.4 355.6 205.9 356.1 207.4 C356.6 208.8 357.1 210.4 357.5 211.9 C358 213.4 358.4 215 358.8 216.5 C359.1 218.1 359.5 219.7 359.8 221.3 C360 223 360.2 224.6 360.4 226.3 C360.6 227.9 360.7 229.6 360.8 231.4 C360.8 233.1 360.8 234.8 360.6 236.6 C360.4 238.3 360.2 240.1 359.7 241.9 C359.3 243.6 358.6 245.4 357.9 247 C357.3 248.7 356.6 250.4 355.8 252 C355.1 253.7 354.2 255.2 353.5 256.8 C352.7 258.4 352.1 260 351.3 261.6 Z" fill="#fff" stroke="#000" stroke-width="1.5" />
<path d="M287.9 201.9 L290 199.8 L292.2 197.9 L294.5 196.2 L296.8 194.6 L299.2 193.1 L301.7 191.9 L304.1 190.7 L306.7 189.7 L309.2 188.7 L311.8 188 L314.4 187.4 L316.9 187.1 L319.5 186.9 L322.1 186.8 L324.6 187 L327.1 187.4 L329.5 188.1 L331.8 189 L334 190 L336.2 191.1 L338.5 192.2 L340.7 193.4 L342.8 194.7 L344.7 196.4 L346.4 198.4 L347.9 200.6 L349.2 203 L350.3 205.4 L351.4 207.9 L352.3 210.5 L353.2 213.1 L353.9 215.8 L354.6 218.5 L355.3 221.2 L355.8 224 L356.1 226.9 L356.5 229.8 L356.6 232.7 L356.6 235.7 L356.3 238.8 L355.7 241.8 L354.7 244.9 L353.5 247.8 L352.3 250.7 L350.9 253.5 L349.4 256.2 L348.2 258.9 L346.9 261.6 L345.4 264.2 L343.7 266.7 L341.9 269 L340.2 271.3 L338.4 273.7 L336.6 275.9 L334.6 278 L332.6 280 L330.6 282 L328.5 283.9 L326.4 285.9 L324.2 287.7" fill="none" stroke="#000" stroke-width="0.8" />
<path d="M300.5 298.2 L298.7 298.2 L296.9 298.3 L295.1 298.2 L293.4 298 L291.7 297.7 L289.9 297.4 L288.3 297 L286.6 296.4 L285 295.8 L283.5 295 L282 294.1 L280.5 293.2 L279.1 292.1 L277.8 291 L276.6 289.7 L275.3 288.5 L274.2 287.1 L273 285.8 L271.9 284.4 L270.8 283 L269.8 281.5 L268.8 280 L267.8 278.5 L266.9 276.9 L266.1 275.2 L265.3 273.5 L264.6 271.8 L264 269.9 L263.4 268 L263.1 266 L262.9 264 L262.8 261.9 L262.7 259.9 L262.8 257.8 L262.8 255.7 L262.8 253.7 L262.8 251.6 L262.9 249.6 L262.9 247.5 L263.1 245.5 L263.6 243.4 L264.2 241.3 L264.9 239.3 L265.7 237.3 L266.5 235.3 L267.4 233.4 L268.4 231.5 L269.4 229.6 L270.3 227.8 L271.2 225.9 L272.1 224.1 L273.1 222.4 L274.1 220.6 L275.2 218.9 L276.3 217.2 L277.3 215.5 L278.4 213.9 L279.5 212.2 L280.7 210.6 L281.9 209" fill="none" stroke="#000" stroke-width="0.8" />
<path d="M306.9 188.2 L306.2 188.1 L305.6 187.6 L305.3 186.9 L305.4 186.1 L305.9 185.5 L306.7 185.2 L307.4 185.4 L308 185.9" fill="none" stroke="#000" stroke-width="0.95" />
<path d="M316.3 185.9 L315.5 185.7 L314.9 185.2 L314.7 184.5 L314.8 183.7 L315.3 183.1 L316 182.9 L316.8 183 L317.4 183.5" fill="none" stroke="#000" stroke-width="0.95" />
<path d="M321.4 185.5 L320.6 185.4 L320.1 184.9 L319.8 184.1 L319.9 183.4 L320.4 182.8 L321.1 182.5 L321.9 182.6 L322.5 183.1" fill="none" stroke="#000" stroke-width="0.95" />
<path d="M326.4 185.9 L325.7 185.7 L325.1 185.2 L324.8 184.5 L324.9 183.7 L325.4 183.1 L326.2 182.9 L326.9 183 L327.5 183.5" fill="none" stroke="#000" stroke-width="0.95" />
<path d="M331.2 187.2 L330.4 187.1 L329.8 186.6 L329.5 185.9 L329.7 185.1 L330.2 184.5 L330.9 184.2 L331.7 184.4 L332.3 184.9" fill="none" stroke="#000" stroke-width="0.95" />
<path d="M337.8 190.3 L337.1 190.1 L336.5 189.6 L336.2 188.9 L336.4 188.2 L336.9 187.6 L337.6 187.3 L338.3 187.4 L338.9 187.9" fill="none" stroke="#000" stroke-width="0.95" />
<path d="M342.2 192.6 L341.5 192.4 L340.9 191.9 L340.6 191.2 L340.7 190.4 L341.2 189.8 L342 189.6 L342.7 189.7 L343.3 190.2" fill="none" stroke="#000" stroke-width="0.95" />
<path d="M346.2 195.6 L345.5 195.4 L344.9 194.9 L344.6 194.2 L344.8 193.4 L345.3 192.8 L346 192.6 L346.8 192.7 L347.3 193.2" fill="none" stroke="#000" stroke-width="0.95" />
<path d="M349.4 199.7 L348.6 199.6 L348 199.1 L347.8 198.4 L347.9 197.6 L348.4 197 L349.1 196.7 L349.9 196.9 L350.5 197.4" fill="none" stroke="#000" stroke-width="0.95" />
<path d="M353.6 208.6 L352.9 208.5 L352.3 208 L352 207.2 L352.1 206.5 L352.6 205.9 L353.4 205.6 L354.1 205.8 L354.7 206.2" fill="none" stroke="#000" stroke-width="0.95" />
<path d="M356.8 219.1 L356 219 L355.4 218.5 L355.2 217.8 L355.3 217 L355.8 216.4 L356.5 216.1 L357.3 216.3 L357.9 216.8" fill="none" stroke="#000" stroke-width="0.95" />
<path d="M358.7 231.3 L357.9 231.2 L357.3 230.7 L357 230 L357.2 229.2 L357.7 228.6 L358.4 228.3 L359.2 228.5 L359.7 229" fill="none" stroke="#000" stroke-width="0.95" />
<path d="M274 292.4 L273.2 292.3 L272.6 291.8 L272.3 291.1 L272.5 290.3 L273 289.7 L273.7 289.4 L274.5 289.6 L275.1 290.1" fill="none" stroke="#000" stroke-width="0.95" />
<path d="M270.6 288.6 L269.8 288.4 L269.2 287.9 L269 287.2 L269.1 286.4 L269.6 285.8 L270.3 285.6 L271.1 285.7 L271.7 286.2" fill="none" stroke="#000" stroke-width="0.95" />
<path d="M267.5 284.4 L266.7 284.3 L266.1 283.8 L265.9 283 L266 282.3 L266.5 281.7 L267.2 281.4 L268 281.5 L268.6 282" fill="none" stroke="#000" stroke-width="0.95" />
<path d="M264.7 279.9 L264 279.8 L263.4 279.3 L263.1 278.5 L263.3 277.8 L263.7 277.2 L264.5 276.9 L265.2 277 L265.8 277.5" fill="none" stroke="#000" stroke-width="0.95" />
<path d="M261.8 273.2 L261.1 273.1 L260.5 272.6 L260.2 271.8 L260.4 271.1 L260.8 270.5 L261.6 270.2 L262.3 270.3 L262.9 270.8" fill="none" stroke="#000" stroke-width="0.95" />
<path d="M260.4 263.6 L259.6 263.5 L259 263 L258.8 262.2 L258.9 261.5 L259.4 260.9 L260.1 260.6 L260.9 260.7 L261.5 261.2" fill="none" stroke="#000" stroke-width="0.95" />
<path d="M260.4 255.6 L259.7 255.5 L259.1 255 L258.8 254.2 L258.9 253.5 L259.4 252.9 L260.2 252.6 L260.9 252.8 L261.5 253.2" fill="none" stroke="#000" stroke-width="0.95" />
<path d="M262.2 241.6 L261.4 241.5 L260.8 241 L260.5 240.3 L260.7 239.5 L261.2 238.9 L261.9 238.6 L262.7 238.8 L263.3 239.3" fill="none" stroke="#000" stroke-width="0.95" />
<path d="M266.2 232.1 L265.5 232 L264.9 231.5 L264.6 230.8 L264.7 230 L265.2 229.4 L266 229.2 L266.7 229.3 L267.3 229.8" fill="none" stroke="#000" stroke-width="0.95" />
<rect x="305.8" y="190.5" width="4" height="6" rx="1.2" transform="rotate(-91.7 307.8 193.5)" fill="#fff" stroke="#000" stroke-width="0.9"/>
<rect x="295" y="199.2" width="5.5" height="9" rx="1.2" transform="rotate(-106.7 297.8 203.7)" fill="#fff" stroke="#000" stroke-width="0.9"/>
<rect x="267.1" y="238.1" width="5" height="9" rx="1.2" transform="rotate(179.1 269.6 242.6)" fill="#fff" stroke="#000" stroke-width="0.9"/>
<rect x="276.2" y="293.2" width="6" height="3.2" rx="1.2" transform="rotate(119.7 279.2 294.8)" fill="#fff" stroke="#000" stroke-width="0.9"/>
<rect x="291.9" y="297.9" width="6" height="3.2" rx="1.2" transform="rotate(104.1 294.9 299.5)" fill="#fff" stroke="#000" stroke-width="0.9"/>
<ellipse cx="280.2" cy="227.6" rx="2.2" ry="2.6" transform="rotate(25 280.2 227.6)" fill="#fff" stroke="#000" stroke-width="0.9"/>
<ellipse cx="280.2" cy="227.6" rx="1.0" ry="1.3" transform="rotate(25 280.2 227.6)" fill="#fff" stroke="#000" stroke-width="0.8"/>
<path d="M277.7 217.2 L279.5 214.6 L281.3 212.2 L283.2 209.9 L285.2 207.6 L287.3 205.5 L289.4 203.6 L291.7 201.7 L294 200 L296.4 198.5 L298.8 197 L301.2 195.8 L303.7 194.7 L306.2 193.7 L308.7 193 L311.2 192.4 L313.7 191.9 L316.3 191.7 L318.7 191.6 L321.2 191.6 L323.6 191.9 L326 192.3 L328.3 192.9 L330.6 193.7 L332.8 194.6 L334.9 195.7 L337 196.9 L338.9 198.3 L340.8 199.9 L342.5 201.6 L344.2 203.4 L345.7 205.4 L347.1 207.5 L348.4 209.7 L349.5 212 L350.6 214.4 L351.4 216.9 L352.2 219.6 L352.8 222.2 L353.3 225 L353.6 227.8 L353.8 230.7 L353.8 233.6 L353.7 236.5 L353.4 239.5 L353 242.4 L352.4 245.4 L351.7 248.3 L350.9 251.3 L349.9 254.2 L348.8 257 L347.6 259.9 L346.2 262.6 L344.7 265.3 L343.1 267.9 L341.4 270.4 L339.6 272.9 L337.7 275.2 L335.7 277.4 L333.6 279.5 L331.4 281.5" fill="none" stroke="#000" stroke-width="0.7" stroke-dasharray="17 4"/>
<path d="M309.7 292.7 L307.3 293.1 L304.9 293.4 L302.6 293.5 L300.3 293.5 L298 293.3 L295.8 292.9 L293.6 292.4 L291.4 291.8 L289.3 291 L287.3 290.1 L285.3 289 L283.4 287.8 L281.6 286.5 L279.9 285 L278.3 283.4 L276.7 281.7 L275.3 279.8 L274 277.9 L272.7 275.8 L271.6 273.7 L270.6 271.4 L269.8 269.1 L269 266.7 L268.4 264.2 L267.9 261.6 L267.5 259 L267.2 256.4 L267.1 253.7 L267.1 251 L267.2 248.2 L267.5 245.4 L267.9 242.7 L268.4 239.9 L269 237.1 L269.8 234.3 L270.7 231.6 L271.7 228.9 L272.8 226.3 L274 223.7 L275.4 221.1" fill="none" stroke="#000" stroke-width="0.7" stroke-dasharray="15 5"/>
<path d="M278.6 232.1 L279.7 229.5 L280.9 227 L282.2 224.5 L283.6 222.2 L285.1 219.9 L286.7 217.6 L288.5 215.5 L290.3 213.5 L292.1 211.6 L294.1 209.8 L296.1 208.1 L298.2 206.6 L300.3 205.2 L302.5 204 L304.7 202.9 L307 201.9 L309.3 201.1 L311.5 200.5 L313.8 200 L316.1 199.7 L318.3 199.5 L320.6 199.5 L322.8 199.7 L324.9 200 L327.1 200.5 L329.1 201.2 L331.1 202 L333 202.9 L334.9 204 L336.7 205.3 L338.3 206.7 L339.9 208.2 L341.4 209.9 L342.7 211.7 L344 213.6 L345.1 215.7 L346.1 217.8 L347 220 L347.7 222.3 L348.4 224.7 L348.8 227.2 L349.2 229.7 L349.4 232.3 L349.5 234.9 L349.4 237.5 L349.2 240.2 L348.8 242.9 L348.4 245.5 L347.7 248.2 L347 250.9 L346.1 253.5 L345.1 256.1 L344 258.6 L342.7 261.1 L341.3 263.5 L339.9 265.8 L338.3 268.1 L336.6 270.3 L334.9 272.3 L333 274.3 L331.1 276.1 L329.1 277.8 L327 279.4 L324.9 280.9 L322.7 282.2 L320.5 283.4 L318.3 284.4 L316 285.2 L313.8 286 L311.5 286.5" fill="none" stroke="#000" stroke-width="0.7" stroke-dasharray="15 4.5"/>
<path d="M305 287.2 L302.9 287.1 L300.8 286.9 L298.8 286.5 L296.8 286 L294.8 285.4 L292.9 284.6 L291.1 283.6 L289.3 282.6 L287.7 281.4 L286.1 280 L284.6 278.6 L283.2 277 L281.8 275.3 L280.6 273.5 L279.5 271.6 L278.5 269.6 L277.6 267.5 L276.9 265.4 L276.2 263.1 L275.7 260.8 L275.3 258.4 L275 256 L274.9 253.5 L274.9 251 L275 248.5 L275.2 246 L275.5 243.4 L276 240.9 L276.6 238.3 L277.3 235.8" fill="none" stroke="#000" stroke-width="0.7" stroke-dasharray="14 5"/>
<path d="M283.2 244.2 L283.7 241.7 L284.3 239.1 L285.1 236.6 L286 234.1 L287.1 231.6 L288.3 229.3 L289.6 227 L291 224.7 L292.6 222.6 L294.2 220.6 L296 218.7 L297.8 216.9 L299.7 215.2 L301.7 213.7 L303.7 212.4 L305.8 211.1 L307.9 210.1 L310.1 209.2 L312.3 208.5 L314.4 208 L316.6 207.6 L318.8 207.4 L320.9 207.4 L323 207.6 L325.1 207.9 L327.1 208.5 L329.1 209.2 L330.9 210 L332.7 211.1 L334.4 212.3 L336 213.6 L337.5 215.1 L338.9 216.8 L340.1 218.6 L341.2 220.5 L342.2 222.5 L343.1 224.6 L343.8 226.8 L344.3 229.1 L344.8 231.5 L345 233.9 L345.1 236.4 L345.1 238.9 L344.9 241.5 L344.6 244.1 L344.1 246.6 L343.4 249.2 L342.6 251.7 L341.7 254.2 L340.7 256.6 L339.5 259 L338.2 261.3 L336.7 263.5 L335.2 265.7 L333.5 267.7 L331.8 269.6 L330 271.4 L328.1 273 L326.1 274.6 L324 275.9 L322 277.1 L319.8 278.2 L317.7 279.1 L315.5 279.8 L313.3 280.3 L311.1 280.7 L309 280.9 L306.8 280.9 L304.7 280.7 L302.7 280.3 L300.7 279.8 L298.7 279.1 L296.8 278.2 L295.1 277.2 L293.4 276 L291.8 274.6 L290.3 273.1 L288.9 271.5 L287.7 269.7 L286.5 267.8" fill="none" stroke="#000" stroke-width="0.7" stroke-dasharray="12 4.5"/>
<line x1="295.1" y1="211.6" x2="294.7" y2="206" stroke="#000" stroke-width="0.7" />
<line x1="318.9" y1="201.8" x2="321.8" y2="196.6" stroke="#000" stroke-width="0.7" />
<line x1="339.6" y1="211.5" x2="344.4" y2="209" stroke="#000" stroke-width="0.7" />
<line x1="347.4" y1="232.5" x2="352" y2="233.5" stroke="#000" stroke-width="0.7" />
<line x1="342.4" y1="257.4" x2="345.2" y2="261.5" stroke="#000" stroke-width="0.7" />
<line x1="323.6" y1="279.2" x2="323.1" y2="285" stroke="#000" stroke-width="0.7" />
<line x1="299.5" y1="284.2" x2="295.9" y2="289" stroke="#000" stroke-width="0.7" />
<line x1="279.9" y1="267.2" x2="275" y2="268.2" stroke="#000" stroke-width="0.7" />
<line x1="278.2" y1="239.8" x2="274.5" y2="236.9" stroke="#000" stroke-width="0.7" />
<line x1="280.5" y1="232.7" x2="277.3" y2="229" stroke="#000" stroke-width="0.7" />
<line x1="309.3" y1="211.9" x2="310.4" y2="206.8" stroke="#000" stroke-width="0.7" />
<line x1="329" y1="211.8" x2="332.5" y2="208.1" stroke="#000" stroke-width="0.7" />
<line x1="341.5" y1="226.9" x2="345.9" y2="226.3" stroke="#000" stroke-width="0.7" />
<line x1="342" y1="247.1" x2="345.3" y2="249.5" stroke="#000" stroke-width="0.7" />
<line x1="330.2" y1="268.4" x2="331" y2="273.1" stroke="#000" stroke-width="0.7" />
<line x1="313.4" y1="278" x2="311.5" y2="282.9" stroke="#000" stroke-width="0.7" />
<line x1="294.7" y1="273.9" x2="290.8" y2="277" stroke="#000" stroke-width="0.7" />
<line x1="284.7" y1="253.1" x2="280.6" y2="252.4" stroke="#000" stroke-width="0.7" />
<line x1="291.8" y1="227" x2="290" y2="222.9" stroke="#000" stroke-width="0.7" />
<path d="M312 224.7 C313.9 223.5 317 224.1 318.8 223.6 C320.6 223.1 320.8 222.2 322.7 221.9 C324.6 221.6 327.9 221.4 330 221.9 C332.2 222.4 334.4 223.3 335.7 224.7 C337 226.1 336.9 228.9 337.9 230.3 C339 231.7 340.9 231.2 341.9 233.2 C342.8 235.1 343.5 239.2 343.6 242.2 C343.7 245.2 343.2 248.4 342.4 251.2 C341.7 253.9 340.6 256.8 339.1 258.5 C337.6 260.2 334.6 260 333.4 261.3 C332.2 262.6 332.6 264.6 331.7 266.4 C330.9 268.2 330.3 270.6 328.4 272 C326.4 273.4 322.7 274.6 319.9 274.8 C317.1 275 313.6 274.1 311.5 273.1 C309.3 272.2 308.6 270.3 307 269.2 C305.4 268.1 303.4 267.7 301.9 266.4 C300.4 265.1 298.7 263.5 298 261.3 C297.2 259.1 297.3 256.1 297.4 253.4 C297.5 250.8 298.1 247.8 298.5 245.5 C298.9 243.3 298.8 241.3 299.6 239.9 C300.5 238.5 302.3 238.6 303.6 237.1 C304.9 235.6 306.1 233 307.5 230.9 C308.9 228.8 310.2 225.9 312 224.7 Z" fill="#fff" stroke="#000" stroke-width="1.0" />
<path d="M318.8 227.5 C319.5 225.9 321.4 225 323.3 224.4 C325.2 223.7 328.2 223.2 330 223.6 C331.9 223.9 333.6 225 334.5 226.4 C335.5 227.8 336.2 230.2 335.9 232 C335.6 233.9 334.1 236 332.9 237.7 C331.6 239.3 330 241.8 328.4 242.2 C326.8 242.5 324.9 241.2 323.3 239.9 C321.7 238.6 319.5 236.3 318.8 234.3 C318 232.2 318 229.2 318.8 227.5 Z" fill="#fff" stroke="#000" stroke-width="1.25" />
<path d="M336.2 232.6 C337.3 231.9 339.3 232.9 340.2 234.5 C341.1 236.1 341.5 239.6 341.5 242.2 C341.6 244.8 341.2 247.6 340.4 250 C339.7 252.5 338.4 255.5 337 256.8 C335.7 258.1 333.5 258.3 332.3 257.9 C331.1 257.6 330 256.2 329.8 254.5 C329.6 252.9 330.5 250.4 331.2 247.8 C331.8 245.2 332.8 241.3 333.6 238.8 C334.5 236.2 335.2 233.3 336.2 232.6 Z" fill="#fff" stroke="#000" stroke-width="1.25" />
<path d="M330.3 259.3 C331.2 260.4 331.4 262.8 330.9 264.7 C330.5 266.5 329.6 268.9 327.8 270.3 C326 271.7 322.5 272.7 319.9 272.9 C317.3 273.1 313.9 272.2 312 271.4 C310.2 270.6 308.7 269.5 308.9 268.1 C309.1 266.6 311.3 264.1 313.2 262.7 C315 261.2 317.8 260.1 319.9 259.3 C322 258.5 323.8 257.9 325.5 257.9 C327.3 257.9 329.4 258.2 330.3 259.3 Z" fill="#fff" stroke="#000" stroke-width="1.25" />
<path d="M301.9 240.1 C303.3 238.8 305.5 238.5 307.5 238.8 C309.5 239.1 312.7 240.4 314.1 241.9 C315.4 243.4 315.8 245.7 315.6 247.8 C315.5 249.9 314.5 252.7 313.2 254.5 C311.8 256.4 309.4 257.9 307.5 259.1 C305.6 260.2 303.2 262.1 301.9 261.3 C300.6 260.6 300.1 257 299.6 254.5 C299.2 252.1 298.7 249.1 299.1 246.7 C299.5 244.3 300.5 241.4 301.9 240.1 Z" fill="#fff" stroke="#000" stroke-width="1.25" />
<line x1="315.8" y1="240.5" x2="310.1" y2="225.2" stroke="#000" stroke-width="1.1" />
<line x1="317.5" y1="240" x2="315" y2="223.8" stroke="#000" stroke-width="1.1" />
<line x1="319.2" y1="239.9" x2="320" y2="223.5" stroke="#000" stroke-width="1.1" />
<line x1="320.9" y1="240.2" x2="325" y2="224.3" stroke="#000" stroke-width="1.1" />
<line x1="322.5" y1="240.8" x2="329.6" y2="226.3" stroke="#000" stroke-width="1.1" />
<line x1="325.9" y1="239.8" x2="332.7" y2="231.6" stroke="#000" stroke-width="1.1" />
<line x1="327.8" y1="242.1" x2="336.3" y2="236.2" stroke="#000" stroke-width="1.1" />
<line x1="329" y1="244.9" x2="338.6" y2="241.6" stroke="#000" stroke-width="1.1" />
<line x1="329.5" y1="247.9" x2="339.6" y2="247.4" stroke="#000" stroke-width="1.1" />
<line x1="329.2" y1="250.9" x2="339.1" y2="253.3" stroke="#000" stroke-width="1.1" />
<line x1="328.2" y1="253.8" x2="337.2" y2="258.9" stroke="#000" stroke-width="1.1" />
<line x1="326.7" y1="256.1" x2="335.9" y2="265" stroke="#000" stroke-width="1.1" />
<line x1="324.6" y1="258.1" x2="331.3" y2="269.3" stroke="#000" stroke-width="1.1" />
<line x1="322" y1="259.4" x2="325.8" y2="272.1" stroke="#000" stroke-width="1.1" />
<line x1="319.2" y1="259.9" x2="319.8" y2="273.3" stroke="#000" stroke-width="1.1" />
<line x1="316.4" y1="259.6" x2="313.7" y2="272.7" stroke="#000" stroke-width="1.1" />
<line x1="313.8" y1="258.6" x2="307.9" y2="270.4" stroke="#000" stroke-width="1.1" />
<line x1="312.4" y1="255.2" x2="305.6" y2="262.5" stroke="#000" stroke-width="1.1" />
<line x1="310.9" y1="253.1" x2="302.5" y2="258.1" stroke="#000" stroke-width="1.1" />
<line x1="310" y1="250.5" x2="300.7" y2="252.9" stroke="#000" stroke-width="1.1" />
<line x1="309.8" y1="247.8" x2="300.2" y2="247.3" stroke="#000" stroke-width="1.1" />
<line x1="310.3" y1="245.2" x2="301.2" y2="241.8" stroke="#000" stroke-width="1.1" />
<line x1="311.4" y1="242.8" x2="303.6" y2="236.8" stroke="#000" stroke-width="1.1" />
<ellipse cx="318.8" cy="248.4" rx="5.4" ry="6.6" transform="rotate(25 318.8 248.4)" fill="#fff" stroke="#000" stroke-width="1.2"/>
<path d="M325.3 243.1 L325.8 244.3 L326 245.7 L325.9 247.2 L325.5 248.7 L324.7 250 L323.8 251.2 L322.6 252.1 L321.4 252.7 L320.1 252.9 L318.9 252.8 L317.7 252.3 L316.8 251.5" fill="none" stroke="#000" stroke-width="0.9" />
<ellipse cx="324.4" cy="218" rx="1.3" ry="1.5" transform="rotate(0 324.4 218)" fill="#fff" stroke="#000" stroke-width="0.9"/>
<ellipse cx="332.9" cy="219.6" rx="1.3" ry="1.5" transform="rotate(0 332.9 219.6)" fill="#fff" stroke="#000" stroke-width="0.9"/>
<ellipse cx="344.1" cy="232.6" rx="1.3" ry="1.5" transform="rotate(0 344.1 232.6)" fill="#fff" stroke="#000" stroke-width="0.9"/>
<ellipse cx="343" cy="242.7" rx="1.3" ry="1.5" transform="rotate(0 343 242.7)" fill="#fff" stroke="#000" stroke-width="0.9"/>
<ellipse cx="341.3" cy="254.5" rx="1.3" ry="1.5" transform="rotate(0 341.3 254.5)" fill="#fff" stroke="#000" stroke-width="0.9"/>
<ellipse cx="327.8" cy="272.6" rx="1.3" ry="1.5" transform="rotate(0 327.8 272.6)" fill="#fff" stroke="#000" stroke-width="0.9"/>
<ellipse cx="318.2" cy="278.2" rx="1.3" ry="1.5" transform="rotate(0 318.2 278.2)" fill="#fff" stroke="#000" stroke-width="0.9"/>
<ellipse cx="310.9" cy="278.2" rx="1.3" ry="1.5" transform="rotate(0 310.9 278.2)" fill="#fff" stroke="#000" stroke-width="0.9"/>
<ellipse cx="296.8" cy="266.9" rx="1.3" ry="1.5" transform="rotate(0 296.8 266.9)" fill="#fff" stroke="#000" stroke-width="0.9"/>
<ellipse cx="294.6" cy="256.2" rx="1.3" ry="1.5" transform="rotate(0 294.6 256.2)" fill="#fff" stroke="#000" stroke-width="0.9"/>
<ellipse cx="298" cy="243.3" rx="1.3" ry="1.5" transform="rotate(0 298 243.3)" fill="#fff" stroke="#000" stroke-width="0.9"/>
<ellipse cx="313.2" cy="222.5" rx="1.3" ry="1.5" transform="rotate(0 313.2 222.5)" fill="#fff" stroke="#000" stroke-width="0.9"/>
<ellipse cx="324.4" cy="217.6" rx="2.6" ry="2.9" transform="rotate(0 324.4 217.6)" fill="none" stroke="#000" stroke-width="1.0"/>
<ellipse cx="294.6" cy="256.2" rx="2.6" ry="2.9" transform="rotate(0 294.6 256.2)" fill="none" stroke="#000" stroke-width="1.0"/>
<rect x="339.2" y="220.9" width="2.4" height="6" rx="1.2" transform="rotate(-35 340.4 223.9)" fill="#fff" stroke="#000" stroke-width="0.9"/>
<rect x="299.8" y="272" width="2.4" height="6" rx="1.2" transform="rotate(-35 301 275)" fill="#fff" stroke="#000" stroke-width="0.9"/>
<rect x="333.9" y="262.8" width="2.4" height="6" rx="1.2" transform="rotate(35 335.1 265.8)" fill="#fff" stroke="#000" stroke-width="0.9"/>
<path d="M301.9 235.4 L305.8 227.5 L309.2 227 L308.1 231.5 L304.7 236 Z" fill="none" stroke="#000" stroke-width="1.0" />
<line x1="75.5" y1="175.8" x2="341.5" y2="314.4" stroke="#222" stroke-width="0.9" stroke-dasharray="3.4 2.15"/>
<path d="M140.8 339.8 C139.2 339.3 137.4 339.8 135.4 340.9 C133.5 342 130.9 344 129.3 346.1 C127.7 348.2 126.5 351.1 125.8 353.5 C125.2 355.9 125.2 358.3 125.7 360.5 C126.1 362.7 127.1 364.9 128.5 366.6 C129.8 368.3 131.9 369.5 133.7 370.5 C135.5 371.6 137.6 372.6 139.4 372.7 C141.1 372.8 142.9 373.7 144.2 371 C145.4 368.2 146.6 360.7 146.8 356.2 C146.9 351.7 146 346.7 145 343.9 C144 341.2 142.4 340.3 140.8 339.8 Z" fill="#fff" stroke="#000" stroke-width="2.2" />
<path d="M139.8 341.8 C138.8 342.2 135.4 342.9 133.7 344.4 C131.9 345.9 130.2 348.5 129.3 350.9 C128.5 353.3 128.4 356.4 128.6 358.8 C128.9 361.1 129.6 363.1 130.6 364.9 C131.7 366.6 134.3 368.5 135 369.2" fill="none" stroke="#000" stroke-width="1.0" />
<path d="M140.8 343.1 C140 343.6 137.3 344.6 135.9 346.1 C134.5 347.7 133.1 350.1 132.4 352.2 C131.7 354.4 131.6 357.1 131.8 359.2 C131.9 361.3 132.4 363.2 133.3 364.9 C134.1 366.5 136.2 368.5 136.7 369.2" fill="none" stroke="#000" stroke-width="0.8" />
<path d="M141.4 343.3 C142.2 342.8 143.2 342.6 144.2 342.2 C145.1 341.8 146 341.2 147.2 340.9 C148.4 340.6 150.4 340.3 151.6 340.6 C152.7 341 153.6 342.1 153.9 342.9 C154.2 343.7 153 344.8 153.3 345.5 C153.6 346.2 155.2 345.8 155.7 347 C156.2 348.2 156.3 350.7 156.4 352.7 C156.4 354.6 156.2 356.7 155.9 358.8 C155.6 360.8 155.3 363.1 154.6 364.9 C153.9 366.6 152.1 367.9 151.6 369.2 C151.1 370.6 151.2 372.2 151.6 373.2 C151.9 374.1 153.5 374.2 153.7 374.9 C154 375.6 153.8 376.7 152.9 377.5 C151.9 378.3 149.6 379.6 148.1 379.9 C146.5 380.1 144.5 379.7 143.5 379 C142.4 378.3 142.5 376.7 141.7 375.8 C141 374.8 140 374.5 138.9 373.4 C137.8 372.3 136 370.9 135 369.2 C134 367.5 133 365.5 132.6 363.1 C132.3 360.8 132.5 357.6 133 355.3 C133.5 352.9 134.4 350.7 135.4 349 C136.4 347.3 137.9 346 138.9 345 C139.9 344 140.5 343.7 141.4 343.3 Z" fill="#fff" stroke="#000" stroke-width="1.4" />
<path d="M140.8 345.7 C140.3 346.3 138.5 347.9 137.6 349.6 C136.7 351.4 135.7 353.9 135.4 356.2 C135.1 358.4 135.4 361.1 135.9 363.1 C136.4 365.2 138.1 367.5 138.5 368.4" fill="none" stroke="#000" stroke-width="0.8" />
<path d="M147.2 349.6 C148.5 349.7 150 350.3 150.7 351.4 C151.4 352.4 151.6 354.3 151.6 356.2 C151.6 358 151.3 360.5 150.7 362.3 C150.1 364 149.2 365.6 148.1 366.6 C147 367.6 145.3 368.4 144.2 368.4 C143 368.4 141.9 367.8 141.1 366.6 C140.3 365.5 139.6 363.3 139.4 361.4 C139.1 359.5 139.2 357 139.8 355.3 C140.4 353.5 141.6 351.9 142.8 350.9 C144.1 350 145.9 349.5 147.2 349.6 Z" fill="#fff" stroke="#000" stroke-width="1.0" />
<path d="M149.8 350.7 C149.2 350.8 147.1 350.4 145.9 350.9 C144.7 351.5 143.5 352.6 142.8 354 C142.1 355.4 141.7 357.5 141.7 359.2 C141.7 361 142.1 363.1 142.8 364.4 C143.5 365.7 144.7 366.8 145.9 367.1 C147.1 367.3 149.2 366.1 149.8 365.9" fill="none" stroke="#000" stroke-width="2.4" />
<path d="M146.8 352.8 C146.3 353.2 144.7 354.1 144.2 355.3 C143.6 356.4 143.4 358.3 143.5 359.6 C143.5 361 144.4 362.9 144.6 363.6" fill="none" stroke="#000" stroke-width="0.8" />
<ellipse cx="147.8" cy="343.5" rx="1.6" ry="1.0" transform="rotate(10 147.8 343.5)" fill="#fff" stroke="#000" stroke-width="0.8"/>
<ellipse cx="147.6" cy="376.2" rx="1.6" ry="1.0" transform="rotate(10 147.6 376.2)" fill="#fff" stroke="#000" stroke-width="0.8"/>
<ellipse cx="135" cy="363.3" rx="1.6" ry="2.0" transform="rotate(0 135 363.3)" fill="#fff" stroke="#000" stroke-width="0.9"/>
<path d="M206 369.1 C205.5 368.8 204.4 367.8 203.4 367.4 C202.3 367 201.2 367.1 199.9 366.8 C198.6 366.4 196.8 365.2 195.7 365.1 C194.6 365 193.8 365.9 193.1 366.3 C192.3 366.8 192.5 367.1 191.2 367.7 C189.8 368.4 187.1 369.1 185.2 370.3 C183.4 371.6 181.4 373.4 180 375.2 C178.6 377 177.5 379.1 176.9 381.2 C176.3 383.2 176.1 385.4 176.4 387.3 C176.8 389.1 177.7 391.1 178.9 392.5 C180.2 393.9 182.9 394.7 184.2 395.5 C185.4 396.4 185.4 397.5 186.4 397.7 C187.5 398 189.1 397.5 190.3 397 C191.5 396.5 192.9 395.4 193.8 394.8 C194.6 394.1 195 393.2 195.5 393.4 C196 393.6 196.5 394.9 196.8 396 C197.1 397.1 197.6 399 197.3 399.9 C196.9 400.8 195.6 401.1 194.6 401.2 C193.7 401.3 192.1 400.5 191.6 400.3" fill="none" stroke="#000" stroke-width="2.9" stroke-linecap="round" stroke-linejoin="round"/>
<path d="M203.4 367.4 C203.4 367.9 203.9 369.7 203.4 370.3 C202.8 370.8 200.9 369.5 200 370.7 C199.1 371.9 198.3 376.2 198 377.3" fill="none" stroke="#000" stroke-width="2.9" stroke-linecap="round" stroke-linejoin="round"/>
<path d="M206 369.1 C205.5 368.8 204.4 367.8 203.4 367.4 C202.3 367 201.2 367.1 199.9 366.8 C198.6 366.4 196.8 365.2 195.7 365.1 C194.6 365 193.8 365.9 193.1 366.3 C192.3 366.8 192.5 367.1 191.2 367.7 C189.8 368.4 187.1 369.1 185.2 370.3 C183.4 371.6 181.4 373.4 180 375.2 C178.6 377 177.5 379.1 176.9 381.2 C176.3 383.2 176.1 385.4 176.4 387.3 C176.8 389.1 177.7 391.1 178.9 392.5 C180.2 393.9 182.9 394.7 184.2 395.5 C185.4 396.4 185.4 397.5 186.4 397.7 C187.5 398 189.1 397.5 190.3 397 C191.5 396.5 192.9 395.4 193.8 394.8 C194.6 394.1 195 393.2 195.5 393.4 C196 393.6 196.5 394.9 196.8 396 C197.1 397.1 197.6 399 197.3 399.9 C196.9 400.8 195.6 401.1 194.6 401.2 C193.7 401.3 192.1 400.5 191.6 400.3" fill="none" stroke="#fff" stroke-width="1.0" stroke-linecap="round" stroke-linejoin="round"/>
<path d="M203.4 367.4 C203.4 367.9 203.9 369.7 203.4 370.3 C202.8 370.8 200.9 369.5 200 370.7 C199.1 371.9 198.3 376.2 198 377.3" fill="none" stroke="#fff" stroke-width="1.0" stroke-linecap="round" stroke-linejoin="round"/>
<path d="M193.8 396 C194 396.4 195.1 397.9 195.1 398.6 C195.1 399.2 194 399.7 193.8 399.9" fill="none" stroke="#000" stroke-width="2.4" />
<path d="M221.9 416.3 C221.9 415.1 222.7 413.4 223.9 412.5 C225 411.6 226.4 411 228.7 410.9 C231.1 410.9 234.1 411.8 237.9 412.2 C241.7 412.6 247.8 413.4 251.6 413.4 C255.4 413.4 258 412.8 260.8 412.2 C263.6 411.5 265.4 410.4 268.4 409.4 C271.5 408.5 276.1 407.2 279.1 406.4 C282.2 405.6 284.7 404.7 286.7 404.5 C288.8 404.4 290.2 404.8 291.3 405.6 C292.5 406.4 293.2 408.8 293.6 409.4 C294 410.1 292.8 409.3 293.6 409.4 C294.4 409.6 297.3 409.9 298.6 410.3 C299.9 410.8 300.9 411.9 301.4 412.2 C301.8 412.5 301.6 411.6 301.4 412.2 C301.2 412.8 300.2 415.2 300 415.8 C299.8 416.4 300.7 415.8 300 415.8 C299.3 415.9 297.2 416.5 295.9 416.3 C294.6 416.1 293.6 414.8 292.1 414.8 C290.6 414.8 288.5 415.1 287 416.3 C285.6 417.4 284 419.5 283.2 421.6 C282.4 423.8 282 427.1 282.2 429.3 C282.4 431.4 283.4 433.3 284.4 434.6 C285.5 435.9 287.6 436.5 288.3 436.9 C288.9 437.3 287.5 437 288.3 436.9 C289 436.7 291.5 435.8 292.5 436 C293.6 436.2 294.3 437.8 294.7 438.1 C295 438.5 294.9 437.4 294.7 438.1 C294.4 438.9 293.4 441.8 293.1 442.5 C292.9 443.3 294 442.7 293.1 442.5 C292.3 442.4 289.5 441.6 288.3 441.8 C287.1 442 287 443.6 286 443.8 C285 444 283.4 443.5 282.2 443 C280.9 442.5 279.5 441.9 278.3 440.7 C277.2 439.6 277.3 438 275.3 436.1 C273.3 434.3 268.5 431.1 266.1 429.6 C263.7 428.1 262 427.8 260.8 427.1 C259.6 426.4 260.7 426 259 425.3 C257.2 424.6 253 423.6 250.1 423.2 C247.2 422.7 243.5 423.1 241.7 422.9 C239.9 422.6 241.6 422 239.4 421.6 C237.3 421.3 231.4 421.2 228.7 420.9 C226.1 420.6 224.5 420.6 223.4 419.8 C222.2 419 221.8 417.5 221.9 416.3 Z" fill="#fff" stroke="#000" stroke-width="1.4" />
<path d="M226.4 413.2 C228.4 413.4 233.7 413.9 237.9 414.3 C242.1 414.7 247.8 415.4 251.6 415.5 C255.4 415.6 258 415.3 260.8 414.8 C263.6 414.2 265.4 413.1 268.4 412.2 C271.5 411.2 276.1 410 279.1 409.1 C282.2 408.3 285.5 407.5 286.7 407.1" fill="none" stroke="#000" stroke-width="0.7" />
<line x1="239.4" y1="415.2" x2="240.2" y2="423.2" stroke="#000" stroke-width="0.9" />
<line x1="241.7" y1="415.5" x2="242.5" y2="423.2" stroke="#000" stroke-width="0.9" />
<line x1="249.3" y1="416" x2="250.4" y2="423.2" stroke="#000" stroke-width="0.9" />
<line x1="279.1" y1="411.7" x2="276.1" y2="430.8" stroke="#000" stroke-width="0.8" />
<line x1="259.3" y1="425.4" x2="263.8" y2="430.8" stroke="#000" stroke-width="0.8" />
<ellipse cx="268.4" cy="421.9" rx="2.9" ry="3.3" transform="rotate(0 268.4 421.9)" fill="#b5b5b5" stroke="#000" stroke-width="1.5"/>
<path d="M266.4 422.1 L266.5 421.3 L266.9 420.6 L267.5 420.2 L268.2 419.9 L269 420 L269.7 420.4 L270.2 421 L270.4 421.8" fill="none" stroke="#444" stroke-width="0.8" />
<line x1="293.6" y1="409.4" x2="292.5" y2="414.8" stroke="#000" stroke-width="0.8" />
<line x1="288.7" y1="436.9" x2="286.7" y2="441.8" stroke="#000" stroke-width="0.8" />
<path d="M323.2 453.2 A4.1 5.4 35 1 1 322.8 456.6" fill="none" stroke="#000" stroke-width="1.4" stroke-linecap="butt"/>
<path d="M359.5 464.2 C358.3 463.8 357.3 464.1 356.3 464.6 C355.4 465 354.4 465.8 353.8 466.9 C353.3 468 353 469.9 353 471.3 C353.1 472.7 353.6 474.3 354.2 475.3 C354.8 476.4 355.7 477 356.6 477.8 C357.6 478.6 358.6 480.7 359.8 480.1 C361.1 479.5 363.6 476.4 364.2 474.2 C364.8 471.9 364.4 468.3 363.6 466.6 C362.8 465 360.7 464.5 359.5 464.2 Z" fill="#555" stroke="#000" stroke-width="1.5" />
<line x1="355.1" y1="465.8" x2="354.6" y2="476.5" stroke="#bbb" stroke-width="0.6" />
<line x1="356.2" y1="465.8" x2="355.8" y2="476.5" stroke="#bbb" stroke-width="0.6" />
<line x1="357.4" y1="465.8" x2="356.9" y2="476.5" stroke="#bbb" stroke-width="0.6" />
<line x1="358.5" y1="465.8" x2="358.1" y2="476.5" stroke="#bbb" stroke-width="0.6" />
<ellipse cx="366.6" cy="473.6" rx="7.5" ry="9.4" transform="rotate(12 366.6 473.6)" fill="#fff" stroke="#000" stroke-width="1.6"/>
<path d="M363.3 481.8 L362.2 481 L361.3 479.9 L360.6 478.6 L360.2 477.1 L360 475.5 L360.1 473.8 L360.4 472.2 L361 470.6 L361.9 469.1 L362.9 467.7 L364.1 466.6 L365.5 465.7 L366.9 465.1 L368.3 464.8 L369.8 464.8 L371.1 465.1" fill="none" stroke="#000" stroke-width="0.8" />
<ellipse cx="367.8" cy="474.2" rx="4.4" ry="5.7" transform="rotate(22 367.8 474.2)" fill="#fff" stroke="#000" stroke-width="1.4"/>
<ellipse cx="366.9" cy="474.5" rx="2.2" ry="4.2" transform="rotate(27 366.9 474.5)" fill="none" stroke="#000" stroke-width="0.9"/>
<path d="M402.5 499.8 L404 494.5 L407.2 490.6 L413.6 493.8 L413.9 496 L412.4 499.2 L410.2 503 L407.8 503.4 Z" fill="#fff" stroke="#000" stroke-width="1.5" stroke-linejoin="round"/>
<path d="M408.1 493.7 L405.7 495.5 L404.9 500.5" fill="none" stroke="#000" stroke-width="0.9" stroke-linejoin="round"/>
<path d="M404 494.5 L405.7 495.5" fill="none" stroke="#000" stroke-width="0.9" />
<path d="M408.5 496 C410.6 496.2 417.3 499.1 419.4 500.1 C421.5 501 420.8 501.2 420.9 502 C421 502.7 420.3 504 419.7 504.5 C419.2 505.1 419.8 505.8 417.8 505.3 C415.8 504.9 409.5 503 407.7 502 C405.8 500.9 406.6 500.2 406.7 499.2 C406.9 498.2 406.4 495.9 408.5 496 Z" fill="#fff" stroke="#000" stroke-width="1.4" />
<line x1="411.4" y1="497.3" x2="410.1" y2="500.9" stroke="#222" stroke-width="0.9" />
<line x1="412.7" y1="497.8" x2="411.4" y2="501.4" stroke="#222" stroke-width="0.9" />
<line x1="413.9" y1="498.3" x2="412.7" y2="501.9" stroke="#222" stroke-width="0.9" />
<line x1="415.2" y1="498.8" x2="413.9" y2="502.4" stroke="#222" stroke-width="0.9" />
<line x1="416.5" y1="499.2" x2="415.2" y2="502.8" stroke="#222" stroke-width="0.9" />
<line x1="417.8" y1="499.7" x2="416.5" y2="503.3" stroke="#222" stroke-width="0.9" />
<line x1="419" y1="500.2" x2="417.8" y2="503.8" stroke="#222" stroke-width="0.9" />
<ellipse cx="408.3" cy="499.2" rx="1.8" ry="3.0" transform="rotate(-20 408.3 499.2)" fill="#fff" stroke="#000" stroke-width="1.2"/>
<ellipse cx="398.3" cy="492" rx="4.7" ry="4.5" transform="rotate(0 398.3 492)" fill="#fff" stroke="#000" stroke-width="1.5"/>
<path d="M397.8 489.8 C397.6 490.1 396.9 491.1 396.8 491.9 C396.8 492.7 397.2 494 397.3 494.4" fill="none" stroke="#000" stroke-width="0.9" />
<path d="M402.4 494.8 L403.2 497 L402.5 499.7" fill="none" stroke="#000" stroke-width="1.2" />
<path d="M403.2 491 L405 492.4" fill="none" stroke="#000" stroke-width="1.2" />
<path d="M372.8 576.3 C375 576.1 380.3 578.2 384 579.4 C387.7 580.6 393 582.3 395.2 583.5 C397.3 584.6 396.8 584.4 396.7 586.4 C396.6 588.4 395.3 592.5 394.5 595.5 C393.7 598.5 392.6 602.7 391.8 604.4 C391 606.1 391.8 606.1 389.7 605.8 C387.5 605.5 381.7 603.8 378.8 602.5 C375.8 601.2 373.1 601.8 371.8 598.1 C370.5 594.5 370.7 584.3 370.9 580.7 C371.1 577.1 370.7 576.6 372.8 576.3 Z" fill="#fff" stroke="#000" stroke-width="1.35" />
<path d="M396 585.9 L391.2 604.7" fill="none" stroke="#000" stroke-width="1.0" />
<path d="M395.2 585.2 L390.3 604.4" fill="none" stroke="#555" stroke-width="0.8" />
<path d="M372.8 578.1 L391 584.4 L393.6 585.9 L389.1 603.8" fill="none" stroke="#000" stroke-width="0.9" stroke-linejoin="round"/>
<path d="M372 580 L388.4 585.9 L383.6 603.4" fill="none" stroke="#000" stroke-width="0.9" stroke-linejoin="round"/>
<path d="M367.4 580.7 C368.5 579 368.6 579.8 370.5 580.3 C372.4 580.9 377.5 581.9 378.8 583.7 C380 585.5 378.5 588 378.1 591.2 C377.6 594.3 376.7 600.4 376.2 602.5 C375.6 604.6 376.3 604 374.8 603.5 C373.4 603 369.4 600.7 367.4 599.4 C365.5 598.2 363.7 597.7 363.1 596.2 C362.5 594.7 363.2 592.9 363.9 590.3 C364.7 587.7 366.3 582.3 367.4 580.7 Z" fill="#fff" stroke="#000" stroke-width="1.35" />
<path d="M368.7 582.9 L378.8 585.2" fill="none" stroke="#000" stroke-width="0.8" />
<path d="M370.5 586.8 L374.6 587.8 L373.2 595.7 L368.7 594.2 Z" fill="none" stroke="#000" stroke-width="1.1" />
<path d="M363.9 595.1 L368.7 594.2" fill="none" stroke="#000" stroke-width="0.8" />
<path d="M373.2 595.7 L375.7 602.9" fill="none" stroke="#000" stroke-width="0.8" />
<path d="M378.8 585.2 L384.9 586.8 L380.1 598.6 L377.7 600.7" fill="none" stroke="#000" stroke-width="0.9" stroke-linejoin="round"/>
<path d="M380.1 598.6 L384.9 603.8 L378.8 602.3 Z" fill="none" stroke="#000" stroke-width="1.0" />
<path d="M377.5 587.2 L376.2 599.4" fill="none" stroke="#666" stroke-width="0.6" />
<path d="M379.2 587.2 L377.9 599.4" fill="none" stroke="#666" stroke-width="0.6" />
<path d="M381.4 587.2 L380.1 599.4" fill="none" stroke="#666" stroke-width="0.6" />
<path d="M342 312.7 L350.5 316.5 L348.7 320.5 L340.3 316.4 Z" fill="#999" stroke="#000" stroke-width="1.2" stroke-linejoin="round"/>
<ellipse cx="353" cy="320.1" rx="4.1" ry="4.1" transform="rotate(0 353 320.1)" fill="#eee" stroke="#000" stroke-width="1.6"/>
<path d="M350.7 320.9 L350.4 320.2 L350.4 319.4 L350.7 318.7 L351.2 318.1 L352 317.8 L352.7 317.8 L353.5 318.1 L354 318.6" fill="none" stroke="#777" stroke-width="0.6" />
<path d="M133.4 76.2 L152.6 37.9 L172.9 37.9" fill="none" stroke="#000" stroke-width="1.1" />
<line x1="183.6" y1="32.1" x2="183.6" y2="37.9" stroke="#000" stroke-width="0.85" /><line x1="180.5" y1="33.4" x2="186.6" y2="36.7" stroke="#000" stroke-width="0.85" /><line x1="180.5" y1="36.7" x2="186.6" y2="33.4" stroke="#000" stroke-width="0.85" /><text x="186.8" y="40.8" font-size="12" textLength="7.5" lengthAdjust="spacingAndGlyphs">8</text>
<path d="M229.9 143.3 L251 104.2 L270.6 104.2" fill="none" stroke="#000" stroke-width="1.1" />
<line x1="282.3" y1="99" x2="282.3" y2="104.9" stroke="#000" stroke-width="0.85" /><line x1="279.3" y1="100.3" x2="285.4" y2="103.6" stroke="#000" stroke-width="0.85" /><line x1="279.3" y1="103.6" x2="285.4" y2="100.3" stroke="#000" stroke-width="0.85" /><text x="285.6" y="107.7" font-size="12" textLength="7.5" lengthAdjust="spacingAndGlyphs">2</text>
<path d="M332.9 184.8 L354 142.1 L373.2 142.1" fill="none" stroke="#000" stroke-width="1.1" />
<line x1="381.3" y1="135.5" x2="381.3" y2="141.3" stroke="#000" stroke-width="0.85" /><line x1="378.3" y1="136.8" x2="384.4" y2="140.1" stroke="#000" stroke-width="0.85" /><line x1="378.3" y1="140.1" x2="384.4" y2="136.8" stroke="#000" stroke-width="0.85" /><text x="384.6" y="144.2" font-size="12" textLength="7.5" lengthAdjust="spacingAndGlyphs">1</text>
<path d="M140.5 339 L160.6 299.6 L180.9 299.6" fill="none" stroke="#000" stroke-width="1.1" />
<line x1="188.3" y1="291.2" x2="188.3" y2="297" stroke="#000" stroke-width="0.85" /><line x1="185.3" y1="292.5" x2="191.4" y2="295.8" stroke="#000" stroke-width="0.85" /><line x1="185.3" y1="295.8" x2="191.4" y2="292.5" stroke="#000" stroke-width="0.85" /><text x="191.6" y="299.9" font-size="12" textLength="7.5" lengthAdjust="spacingAndGlyphs">3</text>
<path d="M199 365.5 L219.3 326.3 L239.7 326.3" fill="none" stroke="#000" stroke-width="1.1" />
<line x1="247.7" y1="318.2" x2="247.7" y2="324" stroke="#000" stroke-width="0.85" /><line x1="244.6" y1="319.5" x2="250.7" y2="322.8" stroke="#000" stroke-width="0.85" /><line x1="244.6" y1="322.8" x2="250.7" y2="319.5" stroke="#000" stroke-width="0.85" /><text x="250.9" y="326.9" font-size="12" textLength="7.5" lengthAdjust="spacingAndGlyphs">9</text>
<path d="M282 404.7 L301.6 375.3 L328.8 375.3" fill="none" stroke="#000" stroke-width="1.1" />
<line x1="336" y1="368.1" x2="336" y2="373.8" stroke="#000" stroke-width="0.85" /><line x1="333" y1="369.3" x2="339.1" y2="372.6" stroke="#000" stroke-width="0.85" /><line x1="333" y1="372.6" x2="339.1" y2="369.3" stroke="#000" stroke-width="0.85" /><text x="339.3" y="376.7" font-size="12" textLength="7.5" lengthAdjust="spacingAndGlyphs">5</text>
<path d="M327.6 449.2 L327.6 419.3 L354.9 419.3" fill="none" stroke="#000" stroke-width="1.1" />
<circle cx="365.3" cy="430.5" r="4.4" fill="#000"/>
<line x1="373.5" y1="425.1" x2="373.5" y2="430.8" stroke="#000" stroke-width="0.85" /><line x1="370.5" y1="426.3" x2="376.6" y2="429.6" stroke="#000" stroke-width="0.85" /><line x1="370.5" y1="429.6" x2="376.6" y2="426.3" stroke="#000" stroke-width="0.85" /><text x="376.8" y="433.7" font-size="12" textLength="14.9" lengthAdjust="spacingAndGlyphs">10</text>
<path d="M367.4 467.5 L367.4 438.4 L394.7 438.4" fill="none" stroke="#000" stroke-width="1.1" />
<line x1="402.3" y1="431.2" x2="402.3" y2="436.9" stroke="#000" stroke-width="0.85" /><line x1="399.3" y1="432.4" x2="405.4" y2="435.7" stroke="#000" stroke-width="0.85" /><line x1="399.3" y1="435.7" x2="405.4" y2="432.4" stroke="#000" stroke-width="0.85" /><text x="405.6" y="439.8" font-size="12" textLength="14.9" lengthAdjust="spacingAndGlyphs">11</text>
<path d="M407.5 503.2 L407.5 530.5 L363.7 530.5" fill="none" stroke="#000" stroke-width="1.1" />
<rect x="296.3" y="520.5" width="67.4" height="18.7" fill="#fff" stroke="#000" stroke-width="1.1"/>
<text x="299.2" y="531.3" font-size="10.7" textLength="61.5" lengthAdjust="spacingAndGlyphs">47 (479, 35)</text>
<line x1="301.1" y1="544" x2="301.1" y2="549.8" stroke="#000" stroke-width="0.85" /><line x1="298.1" y1="545.2" x2="304.2" y2="548.5" stroke="#000" stroke-width="0.85" /><line x1="298.1" y1="548.5" x2="304.2" y2="545.2" stroke="#000" stroke-width="0.85" /><text x="304.4" y="552.6" font-size="12" textLength="7.5" lengthAdjust="spacingAndGlyphs">7</text>
<line x1="284.1" y1="585.6" x2="284.1" y2="591.4" stroke="#000" stroke-width="0.85" /><line x1="281.1" y1="586.8" x2="287.2" y2="590.1" stroke="#000" stroke-width="0.85" /><line x1="281.1" y1="590.1" x2="287.2" y2="586.8" stroke="#000" stroke-width="0.85" /><text x="287.4" y="594.2" font-size="12" textLength="7.5" lengthAdjust="spacingAndGlyphs">4</text>
<path d="M301 591.4 L363 591.4" fill="none" stroke="#000" stroke-width="1.1" />
<path d="M353.4 325 L353.4 342.3" fill="none" stroke="#000" stroke-width="1.1" />
<rect x="315.3" y="342.3" width="80.3" height="19.2" fill="#fff" stroke="#000" stroke-width="1.1"/>
<text x="321.9" y="353.2" font-size="10.7" textLength="72.4" lengthAdjust="spacingAndGlyphs">19.1 (195, 14)</text>
<text x="362.3" y="324.6" font-size="12" textLength="18.3" lengthAdjust="spacingAndGlyphs">x 6</text>
<path d="M556.4 637.3 L556.4 681.4" fill="none" stroke="#000" stroke-width="1.1" />
<line x1="554.4" y1="686" x2="554.4" y2="691.8" stroke="#000" stroke-width="0.85" /><line x1="551.3" y1="687.2" x2="557.4" y2="690.5" stroke="#000" stroke-width="0.85" /><line x1="551.3" y1="690.5" x2="557.4" y2="687.2" stroke="#000" stroke-width="0.85" /><text x="557.6" y="694.6" font-size="12" textLength="7.5" lengthAdjust="spacingAndGlyphs">6</text>
<path d="M170.8 347.1 L158.2 352.6 L156 347.6 L150.1 361.1 L164 365.9 L161.8 360.9 L174.4 355.3 Z" fill="#000" stroke="none" stroke-width="0" />
<path d="M239.7 387.9 L230.5 399 L226.4 395.7 L227 409.8 L241 407.8 L237 404.5 L246.3 393.3 Z" fill="#000" stroke="none" stroke-width="0" />
<path d="M314.3 387.2 L304.1 397 L300.5 393.2 L299.5 407.3 L313.7 406.9 L310 403.1 L320.1 393.4 Z" fill="#000" stroke="none" stroke-width="0" />
<path d="M306 413.9 L297 422.1 L293.5 418.2 L292.1 432.3 L306.3 432.3 L302.7 428.4 L311.8 420.1 Z" fill="#000" stroke="none" stroke-width="0" />
<path d="M275.7 451.6 L274 438.4 L279.2 437.7 L268.4 428.5 L260.3 440.1 L265.5 439.5 L267.3 452.8 Z" fill="#000" stroke="none" stroke-width="0" />
<path d="M525 465.2 L487.7 470.7 L481.1 471.3 L478.9 474 L473.8 482 L472.4 486.3 L458.5 506.7 L443.2 522.8 L441.8 525 L437.4 527.9 L435.9 533.7 L430.1 546.1 L433.7 555.6 L435.9 565.1" fill="none" stroke="#333" stroke-width="0.8" stroke-linejoin="round"/>
<path d="M490.8 481.9 A2.2 2.2 0 1 1 490.8 479.1" fill="none" stroke="#333" stroke-width="0.8"/>
<path d="M501.7 480.5 A2.2 2.2 0 1 1 501.7 477.6" fill="none" stroke="#333" stroke-width="0.8"/>
<path d="M484 485.6 C485.1 485.4 488.5 484.6 490.6 484.2 C492.7 483.7 494.7 482.7 496.4 482.7 C498.1 482.7 499.5 484.5 500.8 484.2 C502.1 483.8 503.4 481.7 504.4 480.5 C505.5 479.3 506.9 477.5 507.4 476.9" fill="none" stroke="#333" stroke-width="0.8" />
<path d="M484.8 486.3 L506.6 507.5 L519.8 522.1" fill="none" stroke="#333" stroke-width="0.8" stroke-linejoin="round"/>
<path d="M480.1 490 C480.4 491.4 480.2 496.2 481.9 498.7 C483.5 501.3 487.8 501.9 489.9 505.3 C491.9 508.7 492.9 515.4 494.2 519.1 C495.6 522.9 496.3 525.3 497.9 527.9 C499.5 530.4 502.7 533.4 503.7 534.4" fill="none" stroke="#333" stroke-width="0.8" />
<path d="M491.3 502.4 L508.8 532.3" fill="none" stroke="#333" stroke-width="0.8" stroke-linejoin="round"/>
<path d="M497.9 488.5 L504.4 498 L505.2 503.8 L508.1 497.3 L512.5 496.5 L512.5 503.1" fill="none" stroke="#333" stroke-width="0.8" stroke-linejoin="round"/>
<path d="M458.5 516.2 L477.5 523.5 L504.4 534.4" fill="none" stroke="#333" stroke-width="0.8" stroke-linejoin="round"/>
<path d="M487.7 510.4 L477.5 523.5" fill="none" stroke="#333" stroke-width="0.8" stroke-linejoin="round"/>
<path d="M476 539.5 L492.1 546.1 L488.4 560.7 L473.1 555.6 Z" fill="none" stroke="#333" stroke-width="0.8" stroke-linejoin="round"/>
<path d="M442.5 523.2 L449.8 527.9 L446.9 531.5 L437.4 527.9" fill="none" stroke="#333" stroke-width="0.8" stroke-linejoin="round"/>
<path d="M458 528.6 A2.2 2.2 0 1 1 458 525.8" fill="none" stroke="#333" stroke-width="0.8"/>
<path d="M460 522.1 C460.1 523 461.1 526.4 460.7 527.9 C460.3 529.3 458.3 530.3 457.8 530.8" fill="none" stroke="#333" stroke-width="0.8" />
<path d="M446.9 540.3 C448.4 538.9 453.9 533.2 456.3 532.3 C458.8 531.3 459.9 533 461.4 534.4 C463 535.9 465.9 538.3 465.8 541 C465.7 543.7 462.3 549.3 460.7 550.5 C459.1 551.7 456.8 549.3 456.3 548.3 C455.9 547.3 458.6 545.6 457.8 544.7 C456.9 543.7 452.3 542.8 451.2 542.5" fill="none" stroke="#333" stroke-width="0.8" />
<path d="M446.9 541 C446.7 542 446.1 544.9 446.1 546.8 C446.1 548.8 446.7 551.7 446.9 552.7" fill="none" stroke="#333" stroke-width="0.8" />
<path d="M504.4 534.4 C504.8 534.7 506.8 534.1 506.6 535.9 C506.5 537.7 504.9 541.9 503.7 545.4 C502.5 548.9 500.1 555.1 499.3 557" fill="none" stroke="#333" stroke-width="0.8" />
<path d="M524.4 465 L527.9 464.5 L532.3 465.9 L539.6 471.8 L544.7 474.7 L548.3 477.6 L548.3 481.2" fill="none" stroke="#333" stroke-width="0.8" stroke-linejoin="round"/>
<path d="M536.1 475.4 A2.2 2.2 0 1 1 536.1 472.5" fill="none" stroke="#333" stroke-width="0.8"/>
<path d="M527.9 473.2 C528.9 474.2 532 477.6 533.7 479.1 C535.4 480.5 536.9 482 538.1 482 C539.3 482 539.7 478.9 541 479.1 C542.4 479.2 545.3 482.1 546.1 482.7" fill="none" stroke="#333" stroke-width="0.8" />
<path d="M517.7 472.5 C517 476.6 513.8 491 513.3 497.3 C512.8 503.6 513.4 506.5 514.8 510.4 C516.1 514.3 520.2 518.9 521.3 520.6" fill="none" stroke="#333" stroke-width="0.8" />
<path d="M518.4 473.2 L546.1 511.9" fill="none" stroke="#333" stroke-width="0.8" stroke-linejoin="round"/>
<path d="M546.1 482.7 L552 481.2 L554.1 482.7" fill="none" stroke="#333" stroke-width="0.8" stroke-linejoin="round"/>
<path d="M554.1 482.7 C553.9 483.7 552.4 486.7 552.7 488.5 C552.9 490.3 554.3 492.8 555.6 493.6 C556.9 494.5 559.6 494.5 560.7 493.6 C561.8 492.8 562.3 490.1 562.2 488.5 C562 486.9 560.3 484.9 560 484.2" fill="none" stroke="#333" stroke-width="0.8" />
<path d="M560 484.2 L566.5 484.9 L562.9 506 L543.9 502.4 L546.1 482.7" fill="none" stroke="#333" stroke-width="0.8" stroke-linejoin="round"/>
<path d="M549 499.5 L549 501.9" fill="none" stroke="#333" stroke-width="0.8" stroke-linejoin="round"/>
<path d="M552.7 500.2 L552.7 502.7" fill="none" stroke="#333" stroke-width="0.8" stroke-linejoin="round"/>
<path d="M556.3 500.9 L556.3 503.4" fill="none" stroke="#333" stroke-width="0.8" stroke-linejoin="round"/>
<path d="M548.3 500.2 L557.1 501.9" fill="none" stroke="#333" stroke-width="0.8" stroke-linejoin="round"/>
<path d="M569.4 468.8 L577.5 470.3" fill="none" stroke="#333" stroke-width="0.8" stroke-linejoin="round"/>
<path d="M577.5 470.3 C577.2 471.4 575.8 475 576 476.9 C576.2 478.7 577.6 480.5 578.9 481.2 C580.3 482 582.9 482.2 584 481.2 C585.1 480.3 585.5 477.1 585.5 475.4 C585.5 473.7 584.3 471.8 584 471" fill="none" stroke="#333" stroke-width="0.8" />
<path d="M584 471 L590 472.5" fill="none" stroke="#333" stroke-width="0.8" stroke-linejoin="round"/>
<path d="M569.4 468.8 L565.8 506 L569.4 507.5 L571.6 512.6 L580.4 511.1 L583.3 503.1" fill="none" stroke="#333" stroke-width="0.8" stroke-linejoin="round"/>
<path d="M568 491.4 L586.2 494.4" fill="none" stroke="#333" stroke-width="0.8" stroke-linejoin="round"/>
<path d="M576 494.4 L576 497" fill="none" stroke="#333" stroke-width="0.8" stroke-linejoin="round"/>
<path d="M578.9 494.7 L578.9 497.3" fill="none" stroke="#333" stroke-width="0.8" stroke-linejoin="round"/>
<path d="M581.8 495.1 L581.8 497.6" fill="none" stroke="#333" stroke-width="0.8" stroke-linejoin="round"/>
<path d="M576 494.7 L582.1 495.5" fill="none" stroke="#333" stroke-width="0.8" stroke-linejoin="round"/>
<path d="M571.6 510.4 C572.2 509.9 574.3 507.4 575.3 507.5 C576.2 507.6 577.1 510.5 577.5 511.1" fill="none" stroke="#333" stroke-width="0.8" />
<path d="M533 506 L533 520.6" fill="none" stroke="#333" stroke-width="0.8" stroke-linejoin="round"/>
<path d="M535.9 506 L536.6 520.6" fill="none" stroke="#333" stroke-width="0.8" stroke-linejoin="round"/>
<path d="M533 506 C533.2 505.8 534 504.6 534.5 504.6 C534.9 504.6 535.7 505.8 535.9 506" fill="none" stroke="#333" stroke-width="0.8" />
<path d="M533.7 510.4 L543.9 508.9" fill="none" stroke="#333" stroke-width="0.8" stroke-linejoin="round"/>
<path d="M536.6 513.3 L546.1 511.9" fill="none" stroke="#333" stroke-width="0.8" stroke-linejoin="round"/>
<path d="M527.9 526.4 L528.6 536.6" fill="none" stroke="#333" stroke-width="0.8" stroke-linejoin="round"/>
<path d="M537.4 525 L538.1 536.6" fill="none" stroke="#333" stroke-width="0.8" stroke-linejoin="round"/>
<path d="M527.9 526.4 C528.6 525.9 530.7 523.8 532.3 523.5 C533.9 523.3 536.5 524.7 537.4 525" fill="none" stroke="#333" stroke-width="0.8" />
<path d="M522.1 542.5 C522.8 541.2 523.5 539.2 526.4 538.4 C529.4 537.5 536.3 536.8 539.6 537.4 C542.8 537.9 545.2 540.2 546.1 541.7 C547.1 543.3 547 545.4 545.4 546.8 C543.8 548.3 539.8 550 536.6 550.5 C533.5 551 528.8 550.5 526.4 549.8 C524.1 549 523.1 547.3 522.4 546.1 C521.6 544.9 521.4 543.8 522.1 542.5 Z" fill="none" stroke="#333" stroke-width="0.8" />
<path d="M522.8 547.6 C524.4 548.5 528.7 552.6 532.3 553 C535.8 553.3 542.2 550.3 544.2 549.8" fill="none" stroke="#333" stroke-width="0.8" />
<path d="M518.4 514.8 C519.3 514.4 522.2 512.3 523.5 512.6 C524.9 512.8 526.2 514.9 526.4 516.2 C526.7 517.6 525.2 519.9 525 520.6" fill="none" stroke="#333" stroke-width="0.8" />
<path d="M525 522.1 C524.9 523.5 523.9 528.9 524.3 530.8 C524.6 532.7 526.7 533.2 527.2 533.7" fill="none" stroke="#333" stroke-width="0.8" />
<path d="M525 520.6 C525.5 520.4 526.9 519 527.9 519.1 C528.9 519.3 530.3 521 530.8 521.3" fill="none" stroke="#333" stroke-width="0.8" />
<path d="M543.9 519.1 L544.7 523.5" fill="none" stroke="#333" stroke-width="0.8" stroke-linejoin="round"/>
<path d="M544.7 519.9 C545.3 519.7 547.6 518.2 548.3 518.8 C549 519.5 548.9 522.7 549 523.5" fill="none" stroke="#333" stroke-width="0.8" />
<path d="M547.6 513.3 C548.7 513.8 552.8 515 554.1 516.2 C555.5 517.4 556.1 518.9 555.6 520.6 C555.1 522.3 552.4 524.5 551.2 526.4 C550 528.4 548.8 531.3 548.3 532.3" fill="none" stroke="#333" stroke-width="0.8" />
<path d="M551.2 526.4 C551.6 527.4 552.2 531 553.4 532.3 C554.6 533.5 557.7 533.5 558.5 533.7" fill="none" stroke="#333" stroke-width="0.8" />
<path d="M554.1 525 L558.5 525.7" fill="none" stroke="#333" stroke-width="0.8" stroke-linejoin="round"/>
<path d="M560 516.2 L564.3 532.3" fill="none" stroke="#333" stroke-width="0.8" stroke-linejoin="round"/>
<path d="M562.9 525 L576 520.6" fill="none" stroke="#333" stroke-width="0.8" stroke-linejoin="round"/>
<path d="M568.7 527.9 L574.5 525 L590 530.8" fill="none" stroke="#333" stroke-width="0.8" stroke-linejoin="round"/>
<path d="M560 513.3 L571.6 519.1 L590 523.5" fill="none" stroke="#333" stroke-width="0.8" stroke-linejoin="round"/>
<path d="M551.2 533.7 L564.3 532.3 L576 520.6" fill="none" stroke="#333" stroke-width="0.8" stroke-linejoin="round"/>
<path d="M558.5 540.3 L554.1 555.6" fill="none" stroke="#333" stroke-width="0.8" stroke-linejoin="round"/>
<path d="M568.7 539.5 L577.5 557" fill="none" stroke="#333" stroke-width="0.8" stroke-linejoin="round"/>
<path d="M506 534.4 L521.3 522.1" fill="none" stroke="#333" stroke-width="0.8" stroke-linejoin="round"/>
<path d="M514.8 542.5 C514.8 541 514.4 535.5 514.8 533.7 C515.2 532 516.4 532 517.3 532 C518.1 532 519.6 532 519.9 533.7 C520.2 535.5 519.3 541 519.2 542.5" fill="none" stroke="#333" stroke-width="0.8" />
<path d="M515.9 542.5 L515.9 548.3" fill="none" stroke="#333" stroke-width="0.8" stroke-linejoin="round"/>
<path d="M518.4 542.5 L518.4 547.6" fill="none" stroke="#333" stroke-width="0.8" stroke-linejoin="round"/>
<path d="M525.7 555.6 L525.7 558.5" fill="none" stroke="#333" stroke-width="0.8" stroke-linejoin="round"/>
<path d="M584.6 475.9 L583.8 471.6 L591.9 473.7 L592.6 486.9 L589 499.3 L580.2 511.6 L578 513.1" fill="none" stroke="#333" stroke-width="0.8" stroke-linejoin="round"/>
<path d="M587.5 473.7 L589 499.3" fill="none" stroke="#333" stroke-width="0.8" stroke-linejoin="round"/>
<path d="M589 499.3 L599.2 506.5" fill="none" stroke="#333" stroke-width="0.8" stroke-linejoin="round"/>
<path d="M599.2 506.5 C599.5 506.9 600.6 508.6 601.3 508.7 C602.1 508.9 601.5 507.5 603.5 507.3 C605.6 507 611.4 506.8 613.7 507.3 C616 507.8 616.6 508.9 617.4 510.2 C618.1 511.5 618 514.4 618.1 515.3" fill="none" stroke="#333" stroke-width="0.8" />
<path d="M618.1 515.3 C619.8 516.4 625.6 520 628.3 521.9 C631 523.7 632.6 524.8 634.1 526.2 C635.7 527.7 637.4 529.3 637.8 530.6 C638.1 531.9 636.6 533.6 636.3 534.2" fill="none" stroke="#333" stroke-width="0.8" />
<path d="M636.3 534.2 C637.2 534.8 640.5 536.7 641.4 537.9 C642.4 539.1 642 540.9 642.2 541.5" fill="none" stroke="#333" stroke-width="0.8" />
<path d="M642.2 541.5 C643 542.5 645.9 545.5 647.3 547.4 C648.6 549.2 649.8 551 650.2 552.5 C650.5 553.9 650.2 555.9 649.4 556.1 C648.7 556.4 646.4 554.3 645.8 553.9" fill="none" stroke="#333" stroke-width="0.8" />
<path d="M645.8 553.9 L646.5 559.8" fill="none" stroke="#333" stroke-width="0.8" />
<path d="M588.2 500.7 C593.2 503.8 610.7 513.2 618.1 518.9 C625.5 524.6 629.3 530.4 632.7 535 C636.1 539.6 636.6 542.7 638.5 546.6 C640.5 550.5 643.1 554.9 644.3 558.3 C645.6 561.7 645.6 565.6 645.8 567" fill="none" stroke="#333" stroke-width="0.8" />
<path d="M589 507.3 L583.8 521.1 L578.7 518.9 L578 513.8" fill="none" stroke="#333" stroke-width="0.8" stroke-linejoin="round"/>
<path d="M583.8 521.1 L609.4 518.9 L591.9 528.4 Z" fill="none" stroke="#333" stroke-width="0.8" stroke-linejoin="round"/>
<path d="M588.2 533.5 L591.1 567" fill="none" stroke="#333" stroke-width="0.8" stroke-linejoin="round"/>
<path d="M596.2 529.9 L604.3 553.2" fill="none" stroke="#333" stroke-width="0.8" stroke-linejoin="round"/>
<path d="M616.6 521.1 L621 554.7" fill="none" stroke="#333" stroke-width="0.8" stroke-linejoin="round"/>
<path d="M616.6 523.3 L627.6 561.2 L619.6 564.1" fill="none" stroke="#333" stroke-width="0.8" stroke-linejoin="round"/>
<path d="M570 552.5 C571 551.7 573.4 548.3 575.8 548.1 C578.3 547.8 582.5 549.5 584.6 551 C586.6 552.5 588.2 554.9 588.2 556.8 C588.2 558.8 586.2 561.8 584.6 562.7 C583 563.5 579.7 562.1 578.7 561.9" fill="none" stroke="#333" stroke-width="0.8" />
<path d="M578.7 561.9 L580.2 575.1" fill="none" stroke="#333" stroke-width="0.8" stroke-linejoin="round"/>
<path d="M570 570 L575.8 568.5" fill="none" stroke="#333" stroke-width="0.8" stroke-linejoin="round"/>
<path d="M629.8 544.4 C630.5 545.1 632.9 548.2 634.1 548.1 C635.4 548 636.6 544.4 637.1 543.7" fill="none" stroke="#333" stroke-width="0.8" />
<path d="M632.7 537.9 C633.3 539.3 635.4 542 636.3 546.6 C637.3 551.2 638.1 562.4 638.5 565.6" fill="none" stroke="#333" stroke-width="0.8" />
<path d="M636.3 565.8 A1.5 1.5 0 1 1 636.3 563.9" fill="none" stroke="#333" stroke-width="0.8"/>
<path d="M433.7 555 C434.1 556.3 434.8 560.6 435.9 563 C437 565.4 439 566.4 440.3 569.6 C441.6 572.7 442.2 578.3 444 582 C445.7 585.6 447.8 588.2 450.5 591.4 C453.2 594.7 456.7 598.7 460 601.6 C463.3 604.6 466.8 607.1 470.2 608.9 C473.6 610.8 478 611.6 480.4 612.6 C482.8 613.6 483.3 614.6 484.8 614.8 C486.2 614.9 486.5 613.1 489.1 613.3 C491.8 613.6 498.9 615.7 500.8 616.2" fill="none" stroke="#333" stroke-width="0.8" />
<path d="M500.8 616.2 C500.4 616.8 498.6 618.8 498.6 619.9 C498.6 621 499.2 622.5 500.8 622.8 C502.4 623 506.1 621.2 508.1 621.3 C510 621.4 509.6 622.1 512.5 623.5 C515.3 625 522.9 629 525 630.1" fill="none" stroke="#333" stroke-width="0.8" />
<path d="M442.5 556.5 L489.1 579.1" fill="none" stroke="#333" stroke-width="0.8" stroke-linejoin="round"/>
<path d="M451.5 568.8 A2.2 2.2 0 1 1 451.5 566" fill="none" stroke="#333" stroke-width="0.8"/>
<path d="M438.8 567.4 L444.7 571" fill="none" stroke="#333" stroke-width="0.8" stroke-linejoin="round"/>
<path d="M454.2 563.7 C453.9 565 453.7 569 452.7 571 C451.7 573.1 449.1 575.3 448.3 576.1" fill="none" stroke="#333" stroke-width="0.8" />
<path d="M448.3 576.1 C450 575.8 455.4 573.7 458.5 574 C461.7 574.2 464.6 577.1 467.3 577.6 C469.9 578.1 471.4 576.1 474.6 576.9 C477.7 577.6 484.3 581.1 486.2 582" fill="none" stroke="#333" stroke-width="0.8" />
<path d="M444.7 583.4 L455.6 588.5 L456.3 594.4" fill="none" stroke="#333" stroke-width="0.8" stroke-linejoin="round"/>
<path d="M449.8 590 L454.9 592.2" fill="none" stroke="#333" stroke-width="0.8" stroke-linejoin="round"/>
<path d="M456.3 584.9 L473.1 585.6 L489.1 586.3" fill="none" stroke="#333" stroke-width="0.8" stroke-linejoin="round"/>
<path d="M465.1 586.3 C465.6 586.8 468.1 588.5 468 589.3 C467.9 590 465 590.5 464.4 590.7" fill="none" stroke="#333" stroke-width="0.8" />
<path d="M473.8 589.3 L492.1 598" fill="none" stroke="#333" stroke-width="0.8" stroke-linejoin="round"/>
<path d="M460 600.2 L495.7 607.5" fill="none" stroke="#333" stroke-width="0.8" stroke-linejoin="round"/>
<path d="M500.8 555 C500.1 556.5 497 561.3 496.4 563.7 C495.8 566.2 497.4 567.6 497.2 569.6 C496.9 571.5 495.2 573 495 575.4 C494.7 577.8 495.9 581 495.7 584.2 C495.5 587.3 494 591.4 493.5 594.4 C493 597.3 492.3 599.5 492.8 601.6 C493.3 603.8 495.1 605.5 496.4 607.5 C497.8 609.4 500.1 612.3 500.8 613.3" fill="none" stroke="#333" stroke-width="0.8" />
<path d="M496.4 575.4 L500.1 576.9" fill="none" stroke="#333" stroke-width="0.8" stroke-linejoin="round"/>
<path d="M479.7 612.6 L483.3 615.5 L488.4 614.8" fill="none" stroke="#333" stroke-width="0.8" stroke-linejoin="round"/>
<path d="M525.7 631 C526.4 631.5 529.2 632.2 530.1 633.9 C530.9 635.6 530.1 639.8 530.8 641.2 C531.5 642.7 532.9 642.7 534.5 642.7 C536 642.7 539.2 642.4 540.3 641.2 C541.4 640 540.2 636.6 541 635.4 C541.9 634.2 543.4 633.7 545.4 633.9 C547.3 634.2 550.7 636.2 552.7 636.8 C554.6 637.4 555.4 637.3 557.1 637.6 C558.8 637.8 560.9 638.3 562.9 638.3 C564.8 638.3 567.1 637.6 568.7 637.6 C570.3 637.6 571.8 638.2 572.4 638.3" fill="none" stroke="#333" stroke-width="0.8" />
<path d="M506 549.4 L509 546.5 L511.9 549.4 L519.2 550.8 L523.5 553.7 L545.4 550.8 L552.7 553.7 L552 559.6 L523.5 564 L516.2 561 L509 558.1 L506 553.7 L506 549.4" fill="none" stroke="#333" stroke-width="0.8" stroke-linejoin="round"/>
<path d="M524.3 557.4 C524.3 556.9 523.5 555.1 524.3 554.5 C525 553.9 527.9 553.3 528.6 553.7 C529.4 554.2 528.6 556.8 528.6 557.4" fill="none" stroke="#333" stroke-width="0.8" />
<path d="M512.6 558.8 L512.6 568.3" fill="none" stroke="#333" stroke-width="0.8" stroke-linejoin="round"/>
<path d="M517 561 L517 569.1" fill="none" stroke="#333" stroke-width="0.8" stroke-linejoin="round"/>
<path d="M504.6 570.5 C505.5 569.3 510.4 567.8 511.9 568.3 C513.3 568.8 514.3 572.2 513.3 573.4 C512.4 574.6 507.5 576.1 506 575.6 C504.6 575.1 503.6 571.7 504.6 570.5 Z" fill="none" stroke="#333" stroke-width="0.8" />
<path d="M510.4 583.6 C511.6 582.4 516.2 580.8 517.7 581.4 C519.2 582.1 519.6 585.6 519.2 587.3 C518.7 589 516.2 591.4 514.8 591.6 C513.3 591.9 511.1 590.1 510.4 588.7 C509.7 587.4 509.2 584.8 510.4 583.6 Z" fill="none" stroke="#333" stroke-width="0.8" />
<path d="M525.7 570.5 C526.7 568.7 530.9 568.3 532.3 569.8 C533.6 571.2 534.7 577.4 533.7 579.3 C532.8 581.1 527.8 582.2 526.4 580.7 C525.1 579.3 524.7 572.3 525.7 570.5 Z" fill="none" stroke="#333" stroke-width="0.8" />
<path d="M535.2 574.9 L541 574.2 L541 580.7 L535.9 580.7 Z" fill="none" stroke="#333" stroke-width="0.8" stroke-linejoin="round"/>
<path d="M519.2 584.4 C521.1 583 529.8 581.1 532.3 581.4 C534.7 581.8 535.7 585.2 533.7 586.5 C531.8 587.9 523 589.8 520.6 589.5 C518.2 589.1 517.2 585.7 519.2 584.4 Z" fill="none" stroke="#333" stroke-width="0.8" />
<path d="M535.9 571.2 L574.5 568.3" fill="none" stroke="#333" stroke-width="0.8" stroke-linejoin="round"/>
<path d="M543.9 572 L555.6 580 L555.6 588.7 L548.3 587.3" fill="none" stroke="#333" stroke-width="0.8" stroke-linejoin="round"/>
<path d="M539.6 582.9 C541 583.6 546.4 585.3 548.3 587.3 C550.3 589.2 551.2 592.5 551.2 594.6 C551.2 596.6 550.5 598.9 548.3 599.7 C546.1 600.4 539.8 599.1 538.1 598.9" fill="none" stroke="#333" stroke-width="0.8" />
<path d="M536.6 602.6 L551.2 600.4 L567.3 604.8 L570.2 595.3" fill="none" stroke="#333" stroke-width="0.8" stroke-linejoin="round"/>
<path d="M545.4 603.3 C546.6 604.3 551.2 607 552.7 609.1 C554.1 611.3 554.9 615 554.1 616.4 C553.4 617.9 550.9 618.4 548.3 617.9 C545.8 617.4 540.4 614.2 538.8 613.5" fill="none" stroke="#333" stroke-width="0.8" />
<path d="M554.1 616.4 C554.3 617.9 554.1 623.4 554.9 625.2 C555.6 627 556.6 627.2 558.5 627.4 C560.5 627.5 565.2 626.1 566.5 625.9" fill="none" stroke="#333" stroke-width="0.8" />
<path d="M572.4 601.9 L571.6 617.2" fill="none" stroke="#333" stroke-width="0.8" stroke-linejoin="round"/>
<path d="M572.4 610.6 L580.4 605.5" fill="none" stroke="#333" stroke-width="0.8" stroke-linejoin="round"/>
<path d="M578.2 562.5 L580.4 574.2" fill="none" stroke="#333" stroke-width="0.8" stroke-linejoin="round"/>
<path d="M496.6 574.2 L500.2 576.3" fill="none" stroke="#333" stroke-width="0.8" stroke-linejoin="round"/>
<path d="M500.2 591.6 L518.4 600.4" fill="none" stroke="#333" stroke-width="0.8" stroke-linejoin="round"/>
<path d="M499.5 601.1 C500.3 599.7 506.2 596.9 508.2 596.7 C510.3 596.6 512.7 598.9 511.9 600.4 C511 601.9 505.2 605.4 503.1 605.5 C501.1 605.6 498.6 602.6 499.5 601.1 Z" fill="none" stroke="#333" stroke-width="0.8" />
<path d="M505.3 604 C506.3 602.6 512.6 600.3 514.8 600.4 C517 600.5 519.4 603.3 518.4 604.8 C517.5 606.2 511.1 609.3 509 609.1 C506.8 609 504.3 605.5 505.3 604 Z" fill="none" stroke="#333" stroke-width="0.8" />
<path d="M501.7 609.1 L526.4 617.9" fill="none" stroke="#333" stroke-width="0.8" stroke-linejoin="round"/>
<path d="M512.6 612.8 L519.2 607.7" fill="none" stroke="#333" stroke-width="0.8" stroke-linejoin="round"/>
<path d="M516.2 615.7 L526.4 617.2" fill="none" stroke="#333" stroke-width="0.8" stroke-linejoin="round"/>
<path d="M517.7 626.6 L529.4 633.2" fill="none" stroke="#333" stroke-width="0.8" stroke-linejoin="round"/>
<path d="M570 638.8 C571 638.6 574.3 638.1 575.8 637.4 C577.4 636.6 579 635.7 579.5 634.4 C580 633.2 578.9 630.8 578.7 630.1" fill="none" stroke="#333" stroke-width="0.8" />
<path d="M578.7 630.1 C579 630.9 579 634.1 580.2 635.2 C581.4 636.3 584.1 637.1 586 636.6 C588 636.1 589.7 633.6 591.9 632.3 C594.1 630.9 596.5 630.1 599.2 628.6 C601.8 627.2 605.8 625 607.9 623.5 C610 622.1 610.9 620.5 611.5 619.9" fill="none" stroke="#333" stroke-width="0.8" />
<path d="M611.5 619.9 C612.6 619.1 615.6 618.5 616.6 619.1 C617.7 619.7 618.6 622.4 618.1 623.5 C617.6 624.6 615.1 625.7 613.7 625.7 C612.4 625.7 610.5 624.5 610.1 623.5 C609.7 622.5 610.5 620.6 611.5 619.9 Z" fill="none" stroke="#333" stroke-width="0.8" />
<path d="M612.3 619.1 C614.5 618 622.2 615.1 625.4 612.6 C628.6 610 630.3 605.3 631.2 603.8" fill="none" stroke="#333" stroke-width="0.8" />
<path d="M631.2 603.8 C632.3 603.5 635.4 602.5 636.3 603.1 C637.3 603.7 637.7 606.6 637.1 607.5 C636.4 608.3 633.9 608.6 632.7 608.2 C631.5 607.8 630 606 629.8 605.3 C629.5 604.6 630.1 604.2 631.2 603.8 Z" fill="none" stroke="#333" stroke-width="0.8" />
<path d="M631.2 603.8 C632.7 602 637.8 596.4 640 592.9 C642.2 589.4 643.4 585 644.3 582.7 C645.3 580.4 645.6 579.7 645.8 579.1" fill="none" stroke="#333" stroke-width="0.8" />
<path d="M645.8 579.1 C646.4 578.3 648.8 578.4 649.4 579.1 C650.1 579.7 650.1 582 649.4 582.7 C648.8 583.4 646.4 584 645.8 583.4 C645.2 582.8 645.2 579.8 645.8 579.1 Z" fill="none" stroke="#333" stroke-width="0.8" />
<path d="M645.8 579.1 C646 577.2 646.8 571.2 647.3 568.1 C647.7 565.1 649 563 648.7 560.8 C648.5 558.6 646.3 556 645.8 555" fill="none" stroke="#333" stroke-width="0.8" />
<path d="M627.6 571 C626.2 574.4 622.1 584.8 619.6 591.4 C617 598.1 613.6 606.5 612.3 611.1 C610.9 615.7 611.7 617.8 611.5 619.1" fill="none" stroke="#333" stroke-width="0.8" />
<path d="M637.1 560.8 C637.5 563 639.7 569.8 640 574 C640.2 578.1 640.5 580.8 638.5 585.6 C636.6 590.5 630 600.2 628.3 603.1" fill="none" stroke="#333" stroke-width="0.8" />
<path d="M627.6 571 L645.8 562.3" fill="none" stroke="#333" stroke-width="0.8" stroke-linejoin="round"/>
<path d="M628.3 568.8 L638.5 563.7" fill="none" stroke="#333" stroke-width="0.8" stroke-linejoin="round"/>
<path d="M626.1 584.2 L641.4 587.1" fill="none" stroke="#333" stroke-width="0.8" stroke-linejoin="round"/>
<path d="M622.5 591.4 L628.3 600.2" fill="none" stroke="#333" stroke-width="0.8" stroke-linejoin="round"/>
<path d="M613.7 611.1 C615.9 610 622.7 608.8 626.9 604.6 C631 600.3 636.6 588.8 638.5 585.6" fill="none" stroke="#333" stroke-width="0.8" />
<path d="M613 611.9 L622.5 612.6" fill="none" stroke="#333" stroke-width="0.8" stroke-linejoin="round"/>
<path d="M605.7 576.9 C604.9 576.7 602.1 575.5 600.6 576.1 C599.2 576.7 597.3 578.9 597 580.5 C596.6 582.1 597.2 584.5 598.4 585.6 C599.6 586.7 603.3 586.8 604.3 587.1" fill="none" stroke="#333" stroke-width="0.8" />
<path d="M578.7 594.4 C580 594.8 583.6 598 586 597.3 C588.5 596.5 591.1 591.1 593.3 590 C595.5 588.9 596.7 591.7 599.2 590.7 C601.6 589.7 606.2 586.2 607.9 584.2 C609.6 582.1 607.7 579.5 609.4 578.3 C611.1 577.1 615.7 578.3 618.1 576.9 C620.5 575.4 621.5 571.8 623.9 569.6 C626.4 567.4 630.3 565.2 632.7 563.7 C635.1 562.3 637.5 561.3 638.5 560.8" fill="none" stroke="#333" stroke-width="0.8" />
<path d="M584.6 603.8 C587 602.3 595.3 596.9 599.2 594.4 C603 591.8 604.7 590.2 607.9 588.5 C611.1 586.8 614.9 586.6 618.1 584.2 C621.3 581.7 625.4 575.7 626.9 574" fill="none" stroke="#333" stroke-width="0.8" />
<path d="M607.2 589.3 C606.8 590.6 604.4 595 605 597.3 C605.6 599.6 609.5 600.9 610.8 603.1 C612.2 605.3 612.6 609.2 613 610.4" fill="none" stroke="#333" stroke-width="0.8" />
<path d="M584.6 603.8 L580.2 629.3" fill="none" stroke="#333" stroke-width="0.8" stroke-linejoin="round"/>
<path d="M431.7 238 H590.3 Q604.3 238 604.3 252 V376 Q604.3 390 590.3 390 H473.2 L491 463.7 L456.9 390 H431.7 Q417.7 390 417.7 376 V252 Q417.7 238 431.7 238 Z" fill="#fff" stroke="#000" stroke-width="2" stroke-linejoin="miter"/>
<clipPath id="cc"><rect x="418.7" y="239" width="184.6" height="150" rx="13"/></clipPath>
<g clip-path="url(#cc)">
<path d="M455.3 244.5 L472.2 241.4" fill="none" stroke="#1a1a1a" stroke-width="0.75" />
<path d="M454.2 249.8 C456.1 250.4 463 254.4 465.8 253 C468.7 251.6 470.3 243.3 471.1 241.4" fill="none" stroke="#1a1a1a" stroke-width="0.75" />
<path d="M446.8 264.7 C449.1 264.3 456.8 264.5 460.6 262.5 C464.3 260.6 467.6 254.6 469 253" fill="none" stroke="#1a1a1a" stroke-width="0.75" />
<path d="M440.4 270 L460.6 266.8" fill="none" stroke="#1a1a1a" stroke-width="0.75" />
<path d="M421.4 293.3 C424.7 292.4 436 291.1 441.5 288 C447 284.8 452.1 276.5 454.2 274.2" fill="none" stroke="#1a1a1a" stroke-width="0.75" />
<path d="M460.6 281.6 L472.2 274.2" fill="none" stroke="#1a1a1a" stroke-width="0.75" />
<path d="M465.8 285.8 C467.6 285.7 473.6 282.7 476.4 284.8 C479.3 286.9 480.3 296.6 482.8 298.6 C485.3 300.5 489.9 296.8 491.3 296.4" fill="none" stroke="#1a1a1a" stroke-width="0.75" />
<path d="M443.6 295.4 C444.3 297 447.3 301.2 447.8 304.9 C448.4 308.6 447 315.5 446.8 317.6" fill="none" stroke="#1a1a1a" stroke-width="0.75" />
<path d="M421.4 327.2 L445.7 322.9" fill="none" stroke="#1a1a1a" stroke-width="0.75" />
<path d="M421.4 381.2 C423.8 379.8 432.1 376.1 436.2 372.7 C440.2 369.4 444.1 363 445.7 361.1" fill="none" stroke="#1a1a1a" stroke-width="0.75" />
<path d="M473.3 247.7 C474.1 246.7 475.9 242.8 478.6 241.8 C481.2 240.7 484.9 239.3 489.2 241.4 C493.4 243.4 500.5 250.5 504 254.1 C507.5 257.6 509.1 259.4 510.3 262.5 C511.6 265.7 512.1 270.5 511.4 273.1 C510.7 275.8 508 278.1 506.1 278.4 C504.2 278.8 501.2 277.2 499.7 275.3 C498.3 273.3 498 268.2 497.6 266.8" fill="none" stroke="#1a1a1a" stroke-width="0.75" />
<path d="M473.3 247.7 C473.1 250.9 471.5 261.3 472.2 266.8 C472.9 272.3 475.4 277.4 477.5 280.6 C479.6 283.7 481.4 285 484.9 285.8 C488.4 286.7 496.2 287.6 498.7 285.8 C501.2 284.1 499.6 277 499.7 275.3" fill="none" stroke="#1a1a1a" stroke-width="0.75" />
<path d="M483.9 285.8 L484.9 307" fill="none" stroke="#1a1a1a" stroke-width="0.75" />
<path d="M491.3 286.9 L492.3 306" fill="none" stroke="#1a1a1a" stroke-width="0.75" />
<path d="M498.7 285.8 L500.8 304.9" fill="none" stroke="#1a1a1a" stroke-width="0.75" />
<path d="M469 243.5 C469.4 248.1 469.6 263.6 471.1 271 C472.7 278.4 476.4 282.3 478.6 288 C480.7 293.6 483 302.1 483.9 304.9" fill="none" stroke="#1a1a1a" stroke-width="0.75" />
<path d="M483.9 340.9 C484.2 343.1 484.4 349.4 486 353.6 C487.6 357.9 490.4 362.8 493.4 366.4 C496.4 369.9 500.4 373.1 504 374.8 C507.6 376.6 513.2 376.6 515 376.9" fill="none" stroke="#1a1a1a" stroke-width="0.75" />
<path d="M466.9 358.9 L482.8 352.6" fill="none" stroke="#1a1a1a" stroke-width="0.75" />
<path d="M471.1 364.2 L487 360" fill="none" stroke="#1a1a1a" stroke-width="0.75" />
<path d="M474.3 374.8 L491.3 367.4" fill="none" stroke="#1a1a1a" stroke-width="0.75" />
<path d="M482.8 376.9 L498.7 372.7" fill="none" stroke="#1a1a1a" stroke-width="0.75" />
<path d="M501.9 383.3 L499.7 372.7" fill="none" stroke="#1a1a1a" stroke-width="0.75" />
<path d="M510.3 383.3 L509.3 375.9" fill="none" stroke="#1a1a1a" stroke-width="0.75" />
<path d="M496.6 241.4 C497.5 243.1 498.8 249.1 501.9 251.9 C504.9 254.8 512.8 257.2 515 258.3" fill="none" stroke="#1a1a1a" stroke-width="0.75" />
<path d="M515 261.5 C513.9 262 510.2 264.3 508.2 264.7 C506.2 265 503.8 263.8 502.9 263.6" fill="none" stroke="#1a1a1a" stroke-width="0.75" />
<path d="M510 247.7 L526.9 242.4" fill="none" stroke="#1a1a1a" stroke-width="0.75" />
<path d="M530.1 241.4 C530.5 243.5 530.7 251.1 532.2 254.1 C533.8 257.1 536.5 258.7 539.7 259.4 C542.8 260.1 549.4 258.5 551.3 258.3" fill="none" stroke="#1a1a1a" stroke-width="0.75" />
<path d="M551.3 258.3 C551.3 256.5 550.3 249.8 551.3 247.7 C552.4 245.6 554.3 246.5 557.7 245.6 C561 244.7 569.1 242.9 571.4 242.4" fill="none" stroke="#1a1a1a" stroke-width="0.75" />
<path d="M551.3 258.3 C552 259.9 553.3 265.9 555.6 267.8 C557.8 269.8 560.3 270.5 565.1 270 C569.9 269.4 581 265.5 584.2 264.7" fill="none" stroke="#1a1a1a" stroke-width="0.75" />
<path d="M539.7 259.4 C539 262.9 535.1 275.8 535.4 280.6 C535.8 285.3 539.7 287.1 541.8 288 C543.9 288.8 546.9 289.2 548.1 285.8 C549.4 282.5 549 270.8 549.2 267.8" fill="none" stroke="#1a1a1a" stroke-width="0.75" />
<path d="M528 284.8 C528.5 284.1 530 281.1 531.2 280.6 C532.4 280 534.4 280 535.4 281.6 C536.5 283.2 537.9 288.1 537.5 290.1 C537.2 292 534 292.7 533.3 293.3" fill="none" stroke="#1a1a1a" stroke-width="0.75" />
<path d="M568.3 291.1 C568.8 292.4 566 297.3 571.4 298.6 C576.9 299.8 596.2 298.6 601.1 298.6" fill="none" stroke="#1a1a1a" stroke-width="0.75" />
<path d="M571.4 309.2 L596.9 309.2" fill="none" stroke="#1a1a1a" stroke-width="0.75" />
<path d="M573.6 312.3 L594.7 321.9" fill="none" stroke="#1a1a1a" stroke-width="0.75" />
<path d="M560.8 315.5 L590.5 326.1" fill="none" stroke="#1a1a1a" stroke-width="0.75" />
<path d="M601.1 264.7 C599.9 265.2 595.6 265.7 593.7 267.8 C591.7 270 589.8 274.2 589.4 277.4 C589.1 280.6 589.6 284.6 591.6 286.9 C593.5 289.2 599.5 290.4 601.1 291.1" fill="none" stroke="#1a1a1a" stroke-width="0.75" />
<path d="M591.6 321.9 L601.1 319.7" fill="none" stroke="#1a1a1a" stroke-width="0.75" />
<path d="M601.1 333.5 C599.9 333.2 595.5 332.8 593.7 331.4 C591.9 330 590.9 326.6 590.5 325 C590.2 323.5 591.4 322.4 591.6 321.9" fill="none" stroke="#1a1a1a" stroke-width="0.75" />
<path d="M583.1 328.2 C582.4 328.6 579.6 328.9 578.9 330.3 C578.1 331.8 578 335.1 578.9 336.7 C579.7 338.3 583.3 339.3 584.2 339.9" fill="none" stroke="#1a1a1a" stroke-width="0.75" />
<path d="M597.9 337.8 C597.2 337.9 594.6 337.6 593.7 338.8 C592.8 340 591.9 343.6 592.6 345.2 C593.3 346.8 597 347.8 597.9 348.3" fill="none" stroke="#1a1a1a" stroke-width="0.75" />
<path d="M543.9 328.2 C544.4 330 546.7 335.3 547.1 338.8 C547.4 342.3 546.2 347.6 546 349.4" fill="none" stroke="#1a1a1a" stroke-width="0.75" />
<path d="M531.2 349.4 C534 348.7 543.2 345.3 548.1 345.2 C553.1 345 552 345 560.8 348.3 C569.7 351.7 594.4 362.5 601.1 365.3" fill="none" stroke="#1a1a1a" stroke-width="0.75" />
<path d="M533.3 354.7 C536.5 354.5 541.1 350.3 552.4 353.6 C563.7 357 593 371.3 601.1 374.8" fill="none" stroke="#1a1a1a" stroke-width="0.75" />
<path d="M522.7 370.6 C525.9 369.2 537.9 364.9 541.8 362.1 C545.7 359.3 545.3 355.1 546 353.6" fill="none" stroke="#1a1a1a" stroke-width="0.75" />
<path d="M547.1 362.1 L566.1 383.3" fill="none" stroke="#1a1a1a" stroke-width="0.75" />
<path d="M567.2 370.6 C568.3 372.4 571.8 378.5 573.6 381.2 C575.3 383.8 577.1 385.6 577.8 386.5" fill="none" stroke="#1a1a1a" stroke-width="0.75" />
<path d="M577.8 368.5 L590.5 386.5" fill="none" stroke="#1a1a1a" stroke-width="0.75" />
<path d="M510 374.8 C511.4 374.5 515.1 370.8 518.5 372.7 C521.8 374.7 528.2 384.2 530.1 386.5" fill="none" stroke="#1a1a1a" stroke-width="0.75" />
<path d="M510 379.1 L519.5 387.5" fill="none" stroke="#1a1a1a" stroke-width="0.75" />
<path d="M524.8 349.4 C525 351.5 526.9 358.6 525.9 362.1 C524.8 365.6 521.1 368.5 518.5 370.6 C515.8 372.7 511.4 374.1 510 374.8" fill="none" stroke="#1a1a1a" stroke-width="0.75" />
<path d="M510 256.2 C510.4 258.3 512.1 265 512.1 268.9 C512.1 272.8 510.4 277.7 510 279.5" fill="none" stroke="#1a1a1a" stroke-width="0.75" />
<path d="M510 328.2 C511.1 329.3 514.2 331 516.4 334.6 C518.5 338.1 521.7 346.9 522.7 349.4" fill="none" stroke="#1a1a1a" stroke-width="0.75" />
<path d="M553.4 293.3 L584.2 264.7 L600 246.7" fill="none" stroke="#1a1a1a" stroke-width="0.75" />
<path d="M568.3 291.1 L582 271" fill="none" stroke="#1a1a1a" stroke-width="0.75" />
<path d="M548.1 290.5 C549 291.3 552.1 292.6 553.4 295.4 C554.8 298.1 556.1 302.8 556.2 307 C556.3 311.3 555.2 317.6 554.1 320.8 C552.9 324 548.1 324.8 549.2 326.1 C550.3 327.4 557.6 329.4 560.8 328.6 C564.1 327.9 567.6 322.6 568.9 321.4" fill="none" stroke="#1a1a1a" stroke-width="0.8" />
<path d="M517.4 298.1 L545 291.4 C554.3 294.4 557.4 322.7 545 325.5 L518.5 330.8 Z" fill="#fff" stroke="#000" stroke-width="1.0"/>
<path d="M451.4 318.1 L516.4 303.6 Q522.4 316.6 518.9 329.5 L459.5 343.5 Q445.9 340.9 444.7 331.4 Q445.8 319.6 451.4 318.1 Z" fill="#fff" stroke="#000" stroke-width="1.7" stroke-linejoin="round"/>
<line x1="452.3" y1="318.4" x2="517.1" y2="304" stroke="#000" stroke-width="1.0" />
<line x1="453.4" y1="319.5" x2="517.9" y2="305.1" stroke="#000" stroke-width="1.0" />
<line x1="454.6" y1="321.2" x2="518.7" y2="306.9" stroke="#000" stroke-width="1.0" />
<line x1="455.8" y1="323.5" x2="519.4" y2="309.2" stroke="#000" stroke-width="1.0" />
<line x1="457" y1="326.3" x2="520" y2="312" stroke="#000" stroke-width="1.0" />
<line x1="458.2" y1="329.2" x2="520.5" y2="315" stroke="#000" stroke-width="1.0" />
<line x1="459.1" y1="332.3" x2="520.8" y2="318.1" stroke="#000" stroke-width="1.0" />
<line x1="459.9" y1="335.3" x2="520.9" y2="321.2" stroke="#000" stroke-width="1.0" />
<line x1="460.4" y1="338" x2="520.8" y2="323.9" stroke="#000" stroke-width="1.0" />
<line x1="460.6" y1="340.3" x2="520.6" y2="326.2" stroke="#000" stroke-width="1.0" />
<line x1="460.5" y1="342" x2="520.1" y2="328" stroke="#000" stroke-width="1.0" />
<line x1="460.1" y1="343.1" x2="519.6" y2="329.1" stroke="#000" stroke-width="1.0" />
<path d="M453.6 318.9 C454.4 320.5 457.2 324.3 458.4 328.2 C459.6 332.2 460.4 340.2 460.8 342.6" fill="none" stroke="#000" stroke-width="0.8" />
<ellipse cx="449.5" cy="332.5" rx="1.5" ry="2.1" transform="rotate(10 449.5 332.5)" fill="#fff" stroke="#000" stroke-width="0.8"/>
<ellipse cx="449.7" cy="332.7" rx="0.6" ry="1.0" transform="rotate(10 449.7 332.7)" fill="#fff" stroke="#000" stroke-width="0.6"/>
<path d="M500.8 338.8 L510.3 345.6 L506.5 347.3 L509.3 360 L502.9 362.1 L499.7 349.4 L493.4 350.5 Z" fill="#fff" stroke="#000" stroke-width="1.3" stroke-linejoin="miter"/>
</g>
</svg>
</body></html>
